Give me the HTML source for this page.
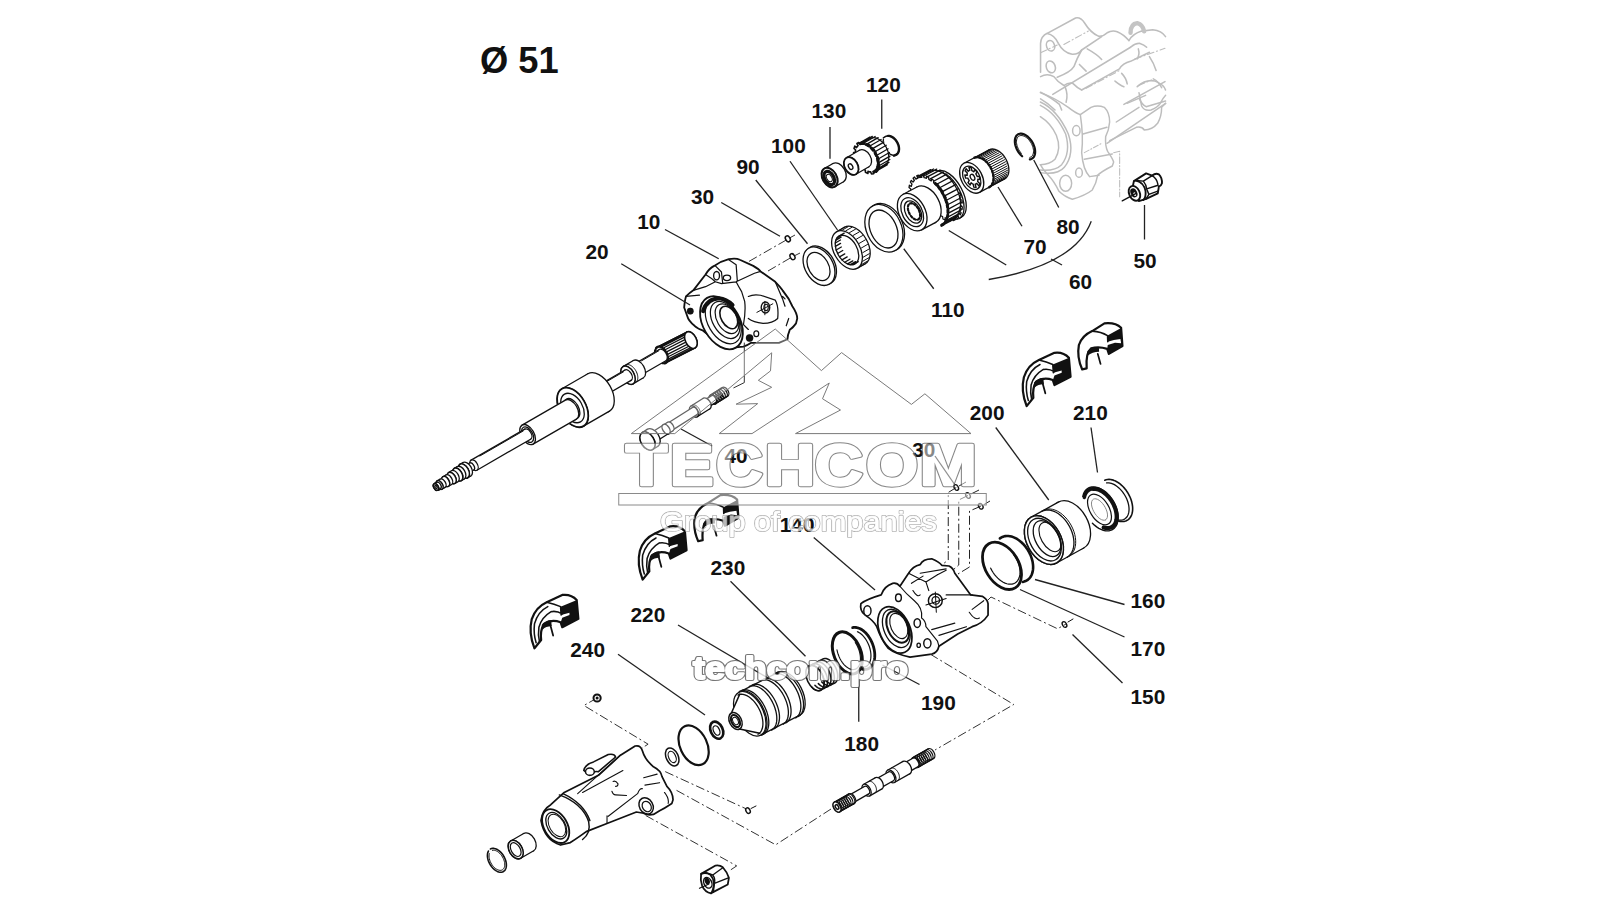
<!DOCTYPE html>
<html><head><meta charset="utf-8">
<style>
html,body{margin:0;padding:0;background:#fff;width:1600px;height:900px;overflow:hidden}
svg{position:absolute;left:0;top:0}
text{font-family:"Liberation Sans",sans-serif}
.lb{font-weight:bold;font-size:20.8px;fill:#111}
.ld{stroke:#222;stroke-width:1.3;fill:none}
.p{stroke:#111;stroke-width:1.3;fill:#fff;stroke-linejoin:round;stroke-linecap:round}
.pn{stroke:#111;stroke-width:1.3;fill:none;stroke-linejoin:round;stroke-linecap:round}
.pk{stroke:#111;stroke-width:2.6;fill:none;stroke-linejoin:round;stroke-linecap:round}
.t{stroke:#111;stroke-width:1;fill:none;stroke-linecap:round}
.dd{stroke:#333;stroke-width:1;fill:none;stroke-dasharray:9 3 2 3}
.g{stroke:#bdbdbd;stroke-width:1.6;fill:none;stroke-linejoin:round;stroke-linecap:round}
.gt{stroke:#c8c8c8;stroke-width:1;fill:none}
</style></head><body>
<svg width="1600" height="900" viewBox="0 0 1600 900">
<text x="480" y="72.5" style="font-weight:bold;font-size:36.3px;fill:#111">Ø 51</text>


<g id="parts">
<ellipse cx="820.5" cy="265.2" rx="14" ry="20.7" transform="rotate(-30 820.5 265.2)" class="p" />
<ellipse cx="819" cy="266.2" rx="14" ry="20.7" transform="rotate(-30 819 266.2)" class="p" />
<ellipse cx="818.5" cy="266.5" rx="10" ry="15.2" transform="rotate(-30 818.5 266.5)" class="pn" />
<ellipse cx="854.79" cy="245.5" rx="13" ry="21" transform="rotate(-30 854.79 245.5)" class="p" /><path d="M857.5 268.19 L865.29 263.69 L844.29 227.31 L836.5 231.81 Z" fill="#fff" stroke="none"/><path d="M857.5 268.19 L865.29 263.69 M836.5 231.81 L844.29 227.31" class="p" fill="none"/><ellipse cx="847" cy="250" rx="13" ry="21" transform="rotate(-30 847 250)" class="p" />
<ellipse cx="847" cy="250" rx="10" ry="16" transform="rotate(-30 847 250)" class="pn" />
<path d="M859.31 267.05 L865.37 263.55 M861.46 264.58 L867.52 261.08 M862.8 261.21 L868.87 257.71 M863.26 257.15 L869.32 253.65 M862.8 252.63 L868.87 249.13 M861.46 247.93 L867.52 244.43 M859.31 243.32 L865.37 239.82 M856.47 239.08 L862.54 235.58 M853.13 235.45 L859.19 231.95 M849.47 232.66 L855.54 229.16 M845.72 230.87 L851.78 227.37 M842.1 230.19 L848.16 226.69 M838.82 230.66 L844.88 227.16 " class="t"/>
<path d="M839 236.14 L844.2 233.14 M837.14 237.76 L842.34 234.76 M835.87 240.11 L841.07 237.11 M835.26 243.05 L840.46 240.05 M835.35 246.4 L840.54 243.4 M836.13 249.96 L841.32 246.96 M837.55 253.52 L842.75 250.52 M839.54 256.88 L844.73 253.88 M841.97 259.83 L847.16 256.83 M844.7 262.19 L849.89 259.19 M847.56 263.83 L852.76 260.83 M850.39 264.65 L855.59 261.65 M853.02 264.59 L858.22 261.59 " class="pn"/>
<ellipse cx="885.5" cy="227.3" rx="17.5" ry="25" transform="rotate(-25 885.5 227.3)" class="p" />
<ellipse cx="883.9" cy="228.3" rx="17.5" ry="25" transform="rotate(-25 883.9 228.3)" class="p" />
<ellipse cx="883.5" cy="229" rx="13" ry="20" transform="rotate(-25 883.5 229)" class="pn" />
<ellipse cx="949.21" cy="194.33" rx="13.5" ry="26" transform="rotate(-28 949.21 194.33)" class="p" /><path d="M959.21 218.46 L961.41 217.28 L937 171.37 L934.79 172.54 Z" fill="#fff" stroke="none"/><path d="M959.21 218.46 L961.41 217.28 M934.79 172.54 L937 171.37" class="p" fill="none"/><ellipse cx="947" cy="195.5" rx="13.5" ry="26" transform="rotate(-28 947 195.5)" class="p" />
<ellipse cx="942.24" cy="194.46" rx="15.5" ry="26" transform="rotate(-28 942.24 194.46)" class="p" /><path d="M941.21 224.46 L954.45 217.41 L930.04 171.5 L916.79 178.54 Z" fill="#fff" stroke="none"/><path d="M941.21 224.46 L954.45 217.41 M916.79 178.54 L930.04 171.5" class="p" fill="none"/>
<path d="M946.96 206.68 L946.67 205.13 L948.37 205.15 L947.67 202.38 L945.88 201.99 L945.38 200.41 L944.8 198.84 L946.25 198.23 L945.06 195.5 L943.45 195.74 L942.69 194.22 L941.86 192.74 L942.95 191.54 L941.36 189.03 L940.04 189.88 L939.06 188.53 L938.04 187.23 L938.71 185.53 L936.81 183.4 L935.88 184.82 L934.75 183.72 L933.6 182.7 L933.8 180.6 L931.73 179.01 L931.24 180.89 L930.05 180.12 L928.85 179.44 L928.57 177.1 L926.46 176.16 L926.45 178.37 L925.27 177.98 L924.11 177.69 L923.36 175.26 L921.37 175.02 L921.84 177.42 L920.75 177.44 L919.7 177.56 L918.54 175.21 L916.8 175.7 L917.71 178.12 L916.79 178.54 L915.92 179.07 L914.43 176.95 L913.05 178.13 L914.36 180.4 L913.67 181.21 L913.04 182.1 L911.32 180.37 L910.4 182.15 L912 184.13 L911.59 185.26 L911.25 186.46 L909.41 185.22 L909.01 187.5 L910.8 189.04 L910.69 190.41 L910.66 191.83 L908.83 191.19 L908.99 193.79 L910.84 194.8 L911.04 196.32 L911.33 197.87 L909.63 197.85 L910.33 200.62 L912.12 201.01 L912.62 202.59 L913.2 204.16 L911.75 204.77 L912.94 207.5 L914.55 207.26 L915.31 208.78 L916.14 210.26 L915.05 211.46 L916.64 213.97 L917.96 213.12 L918.94 214.47 L919.96 215.77 L919.29 217.47 L921.19 219.6 L922.12 218.18" class="pn" style="stroke-width:1.3"/>
<path d="M936.5 212.25 L937.69 213.31 L937.5 215.41 L939.65 217.05 L940.14 215.16 L941.38 215.95 L942.62 216.64 L942.93 218.99 L945.11 219.93 L945.1 217.71 L946.32 218.08 L947.52 218.35 L948.31 220.78 L950.36 220.95 L949.85 218.55 L950.97 218.48 L952.04 218.3 L953.25 220.64 L955.02 220.04 L954.05 217.62 L954.97 217.12 L955.84 216.52 L957.38 218.57 L958.74 217.24 L957.38 215 L958.05 214.1 L958.64 213.11 L960.4 214.75 L961.25 212.78 L959.6 210.88 L959.96 209.65 L960.24 208.34 L962.09 209.44 L962.37 206.98 L960.55 205.55 L960.58 204.08 L960.53 202.56 L962.33 203.03 L962.01 200.26 L960.16 199.41 L959.86 197.8 L959.47 196.18 L961.1 195.99 L960.21 193.12 L958.46 192.91" class="pn" style="stroke-width:1.2"/>
<path d="M943.13 225.01 L956.38 217.97 M945.24 222.95 L958.49 215.91 M946.86 220.23 L960.1 213.19 M947.93 216.95 L961.18 209.9 M948.43 213.19 L961.67 206.15 M948.34 209.08 L961.58 202.04 M947.66 204.74 L960.9 197.7 M946.41 200.3 L959.66 193.26 M944.64 195.9 L957.88 188.86 M942.39 191.67 L955.63 184.62 M939.73 187.73 L952.97 180.69 M936.75 184.22 L949.99 177.18 M933.53 181.23 L946.77 174.19 M930.17 178.85 L943.42 171.81 M926.78 177.17 L940.02 170.12 M923.46 176.22 L936.7 169.18 M920.3 176.04 L933.54 169 M917.41 176.64 L930.65 169.59 " class="pn"/>
<path d="M941.68 225.34 L942.86 224.59 L943.94 223.67 L944.9 222.58 L945.74 221.33 L946.46 219.93 L947.04 218.39 L947.49 216.72 L947.79 214.93 L947.95 213.05 L947.97 211.07 L947.84 209.02 L947.57 206.91 L947.16 204.77 L946.61 202.6 L945.93 200.41 L945.11 198.24 L944.18 196.09 L943.13 193.99 L941.97 191.94 L940.71 189.96 L939.37 188.07 L937.94 186.29 L936.45 184.62 L934.9 183.08" class="pk" style="stroke-dasharray:2.5 2.5;stroke-width:3"/>
<ellipse cx="926.33" cy="204.69" rx="13" ry="20" transform="rotate(-28 926.33 204.69)" class="p" /><path d="M921.59 229.86 L935.72 222.35 L916.94 187.03 L902.81 194.54 Z" fill="#fff" stroke="none"/><path d="M921.59 229.86 L935.72 222.35 M902.81 194.54 L916.94 187.03" class="p" fill="none"/><ellipse cx="912.2" cy="212.2" rx="13" ry="20" transform="rotate(-28 912.2 212.2)" class="p" />
<ellipse cx="912.2" cy="212.2" rx="10" ry="15.5" transform="rotate(-28 912.2 212.2)" class="pn" />
<ellipse cx="913" cy="212" rx="7.5" ry="12" transform="rotate(-28 913 212)" class="pn" />
<path d="M918.23 219.45 L918.86 218.98 L919.38 218.33 L919.77 217.51 L920.01 216.55 L920.11 215.46 L920.06 214.27 L919.85 213.02 L919.5 211.72 L919.02 210.42 L918.41 209.15 L917.7 207.94 L916.89 206.81 L916.02 205.8 L915.09 204.93 L914.13 204.22 L913.18 203.69 L912.24 203.35 L911.35 203.22 L910.52 203.28 L909.77 203.55 L909.14 204.02 L908.62 204.67 L908.23 205.49 L907.99 206.45 L907.89 207.54 L907.94 208.73 L908.15 209.98 L908.5 211.28 L908.98 212.58 L909.59 213.85 L910.3 215.06 L911.11 216.19 L911.98 217.2 L912.91 218.07 L913.87 218.78 L914.82 219.31 L915.76 219.65 L916.65 219.78 L917.48 219.72 L918.23 219.45" class="t" style="stroke-width:2.2;stroke-dasharray:2 2"/>
<ellipse cx="996.86" cy="164.42" rx="10.5" ry="16.5" transform="rotate(-28 996.86 164.42)" class="p" /><path d="M979.45 192.37 L1004.61 178.99 L989.12 149.85 L963.95 163.23 Z" fill="#fff" stroke="none"/><path d="M979.45 192.37 L1004.61 178.99 M963.95 163.23 L989.12 149.85" class="p" fill="none"/><ellipse cx="971.7" cy="177.8" rx="10.5" ry="16.5" transform="rotate(-28 971.7 177.8)" class="p" />
<path d="M989.79 186.83 L1003.91 179.31 M990.92 185.86 L1005.04 178.35 M991.86 184.64 L1005.99 177.13 M992.6 183.18 L1006.73 175.67 M993.13 181.52 L1007.26 174.01 M993.42 179.69 L1007.55 172.18 M993.49 177.72 L1007.61 170.21 M993.31 175.65 L1007.44 168.14 M992.91 173.52 L1007.04 166.01 M992.28 171.38 L1006.41 163.87 M991.44 169.26 L1005.57 161.74 M990.41 167.2 L1004.53 159.69 M989.2 165.25 L1003.32 157.74 M987.84 163.45 L1001.96 155.93 M986.35 161.82 L1000.48 154.31 M984.77 160.4 L998.89 152.89 M983.12 159.22 L997.25 151.71 M981.44 158.31 L995.56 150.8 M979.76 157.67 L993.88 150.16 M978.11 157.32 L992.23 149.81 M976.52 157.27 L990.65 149.76 M975.03 157.52 L989.16 150.01 " class="t"/>
<path d="M989.16 187.21 L990.3 186.44 L991.29 185.44 L992.12 184.21 L992.76 182.79 L993.2 181.2 L993.45 179.46 L993.48 177.6 L993.32 175.66 L992.94 173.66 L992.37 171.65 L991.62 169.66 L990.68 167.71 L989.59 165.85 L988.36 164.11 L987.01 162.51 L985.57 161.09 L984.05 159.86 L982.49 158.85 L980.91 158.08 L979.34 157.56 L977.8 157.29 L976.33 157.29 L974.94 157.55 L973.67 158.07" class="pk" style="stroke-dasharray:2 2;stroke-width:2.4"/>
<ellipse cx="971.7" cy="177.8" rx="8" ry="12.5" transform="rotate(-28 971.7 177.8)" class="pn" />
<path d="M976.02 183.92 L976.75 183.37 L978.84 185.91 L979.93 183.85 L977.68 181.61 L977.86 180.46 L977.83 179.18 L980.19 179.65 L979.42 176.5 L977.17 176.47 L976.56 175.14 L975.8 173.89 L977.03 172.01 L974.85 169.61 L973.92 171.83 L972.88 171.09 L971.83 170.59 L971.22 167.48 L968.91 167.23 L969.84 170.38 L968.98 170.68 L968.25 171.23 L966.16 168.69 L965.07 170.75 L967.32 172.99 L967.14 174.14 L967.17 175.42 L964.81 174.95 L965.58 178.1 L967.83 178.13 L968.44 179.46 L969.2 180.71 L967.97 182.59 L970.15 184.99 L971.08 182.77 L972.12 183.51 L973.17 184.01 L973.78 187.12 L976.09 187.37 L975.16 184.22" class="pn" style="stroke-width:1.4"/>
<ellipse cx="972.5" cy="177.3" rx="2" ry="3.2" transform="rotate(-28 972.5 177.3)" class="pn" />
<path d="M1029.86 159.31 L1031.03 159.06 L1032.1 158.57 L1033.02 157.85 L1033.8 156.92 L1034.41 155.79 L1034.85 154.49 L1035.1 153.03 L1035.15 151.45 L1035.02 149.78 L1034.7 148.05 L1034.19 146.29 L1033.51 144.53 L1032.67 142.81 L1031.69 141.16 L1030.58 139.61 L1029.36 138.19 L1028.07 136.92 L1026.71 135.84 L1025.32 134.96 L1023.93 134.29 L1022.55 133.86 L1021.23 133.66 L1019.97 133.71 L1018.81 134 L1017.76 134.52 L1016.85 135.27 L1016.1 136.23 L1015.51 137.39 L1015.1 138.71 L1014.88 140.19 L1014.85 141.78 L1015.01 143.46 L1015.36 145.2 L1015.89 146.96 L1016.6 148.72 L1017.46 150.43 L1018.46 152.07 L1019.59 153.6 L1020.82 155 L1022.12 156.24" class="pn" style="stroke-width:2.2"/>
<path d="M1029.86 157.34 L1030.73 157.04 L1031.51 156.55 L1032.17 155.89 L1032.71 155.07 L1033.12 154.1 L1033.39 153.01 L1033.52 151.8 L1033.5 150.5 L1033.34 149.13 L1033.03 147.72 L1032.59 146.29 L1032.01 144.86 L1031.32 143.46 L1030.52 142.11 L1029.62 140.83 L1028.64 139.66 L1027.61 138.6 L1026.52 137.67 L1025.42 136.9 L1024.3 136.29 L1023.2 135.85 L1022.12 135.6 L1021.1 135.54 L1020.14 135.66 L1019.27 135.96 L1018.49 136.45 L1017.83 137.11 L1017.29 137.93 L1016.88 138.9 L1016.61 139.99 L1016.48 141.2 L1016.5 142.5 L1016.66 143.87 L1016.97 145.28 L1017.41 146.71 L1017.99 148.14 L1018.68 149.54 L1019.48 150.89 L1020.38 152.17 L1021.36 153.34" class="t"/>
<g transform="translate(1110 160) scale(0.05556)" stroke="#111" stroke-linejoin="round" stroke-linecap="round"><path d="M760 280 Q820 230 880 260 Q940 320 935 420 Q920 470 880 480 L860 600 L650 700 L520 740 L380 620 L430 380 L650 240 Z" fill="#fff" stroke-width="34"/><path d="M760 280 Q840 330 860 430 Q860 470 880 480 M430 380 L470 370 L600 380 L760 280 M600 380 Q650 440 660 520 L700 620 L650 700 M660 520 L850 460 M700 620 L860 560" fill="none" stroke-width="26"/><path d="M470 370 Q610 400 640 560 Q650 680 600 720" fill="none" stroke-width="34"/><ellipse cx="440" cy="600" rx="95" ry="140" transform="rotate(-25 440 600)" fill="#fff" stroke-width="34"/><ellipse cx="430" cy="590" rx="58" ry="85" transform="rotate(-25 430 590)" fill="#111"/><ellipse cx="445" cy="615" rx="22" ry="35" transform="rotate(-25 445 615)" fill="#fff"/><path d="M220 735 L470 600" fill="none" stroke-width="24"/></g>
<ellipse cx="838.26" cy="172.6" rx="7" ry="10.5" transform="rotate(-30 838.26 172.6)" class="p" /><path d="M834.85 186.69 L843.51 181.69 L833.01 163.51 L824.35 168.51 Z" fill="#fff" stroke="none"/><path d="M834.85 186.69 L843.51 181.69 M824.35 168.51 L833.01 163.51" class="p" fill="none"/><ellipse cx="829.6" cy="177.6" rx="7" ry="10.5" transform="rotate(-30 829.6 177.6)" class="p" />
<ellipse cx="829.6" cy="177.6" rx="7" ry="10.5" transform="rotate(-30 829.6 177.6)" class="p" style="stroke-width:2"/>
<ellipse cx="829.3" cy="178" rx="4.5" ry="7.2" transform="rotate(-30 829.3 178)" class="pk" style="stroke-width:3.2;stroke-dasharray:2.5 1.2"/>
<ellipse cx="829.3" cy="178" rx="2.5" ry="4" transform="rotate(-30 829.3 178)" class="t" />
<ellipse cx="891.1" cy="145.5" rx="7" ry="10.5" transform="rotate(-30 891.1 145.5)" class="p" /><path d="M893.75 156.09 L896.35 154.59 L885.85 136.41 L883.25 137.91 Z" fill="#fff" stroke="none"/><path d="M893.75 156.09 L896.35 154.59 M883.25 137.91 L885.85 136.41" class="p" fill="none"/>
<path d="M893.86 155.34 L894.81 155.24 L895.7 154.96 L896.51 154.53 L897.22 153.95 L897.83 153.22 L898.32 152.36 L898.69 151.39 L898.92 150.32 L899.02 149.16 L898.98 147.95 L898.8 146.69 L898.49 145.42 L898.05 144.15 L897.5 142.91 L896.83 141.71 L896.06 140.57 L895.2 139.53 L894.28 138.58 L893.29 137.76 L892.27 137.07 L891.22 136.53 L890.18 136.14 L889.14 135.92 L888.14 135.86" class="pk" style="stroke-width:2.4"/>
<ellipse cx="877.76" cy="151.5" rx="9.5" ry="15" transform="rotate(-30 877.76 151.5)" class="p" /><path d="M874 170.99 L885.26 164.49 L870.26 138.51 L859 145.01 Z" fill="#fff" stroke="none"/><path d="M874 170.99 L885.26 164.49 M859 145.01 L870.26 138.51" class="p" fill="none"/><ellipse cx="866.5" cy="158" rx="9.5" ry="15" transform="rotate(-30 866.5 158)" class="p" />
<path d="M874 170.99 L874.94 170.32 L876.49 172.11 L877.87 170.39 L876.43 168.46 L876.96 167.29 L877.35 165.99 L879.15 166.95 L879.41 164.23 L877.63 163.06 L877.53 161.47 L877.27 159.83 L878.91 159.74 L877.99 156.64 L876.28 156.5 L875.57 154.85 L874.73 153.25 L875.83 152.13 L873.94 149.37 L872.69 150.28 L871.53 148.95 L870.3 147.76 L870.61 145.86 L868.18 144.07 L867.68 145.83 L866.34 145.13 L865 144.61 L864.45 142.38 L862.04 141.97 L862.4 144.17 L861.19 144.25 L860.05 144.53 L858.76 142.47 L856.92 143.53 L858.06 145.68 L857.25 146.52 L856.57 147.54 L854.84 146.12 L853.99 148.41 L855.65 150.01 L855.43 151.43 L855.37 152.94 L853.6 152.49 L853.93 155.49 L855.73 156.17 L856.15 157.83 L856.72 159.5 L855.3 160.13 L856.75 163.14 L858.27 162.75 L859.24 164.28 L860.31 165.72 L859.58 167.28 L861.8 169.62 L862.7 168.24 L863.99 169.29 L865.32 170.17 L865.44 172.3 L867.93 173.43 L868 171.39 L869.32 171.71 L870.6 171.83 L871.54 174.04 L873.73 173.71 L872.95 171.47" class="p" style="stroke-width:1.6"/>
<path d="M876.2 171.16 L887.46 164.66 M877.74 168.92 L888.99 162.42 M878.6 166.03 L889.86 159.53 M878.74 162.66 L890 156.16 M878.16 159.02 L889.42 152.52 M876.89 155.31 L888.15 148.81 M875 151.77 L886.25 145.27 M872.6 148.59 L883.86 142.09 M869.84 145.98 L881.1 139.48 M866.88 144.07 L878.14 137.57 M863.9 143 L875.16 136.5 M861.08 142.82 L872.33 136.32 M858.57 143.54 L869.83 137.04 " class="pn"/>
<path d="M874.5 171.86 L875.56 171.09 L876.47 170.09 L877.21 168.89 L877.76 167.5 L878.12 165.95 L878.28 164.26 L878.24 162.47 L878 160.6 L877.56 158.68 L876.94 156.76 L876.13 154.85 L875.16 153 L874.04 151.23 L872.79 149.58 L871.44 148.08 L870 146.74 L868.5 145.6 L866.97 144.67 L865.43 143.96 L863.9 143.5 L862.42 143.28 L861.01 143.32 L859.7 143.61 L858.5 144.14" class="pk" style="stroke-dasharray:3 3;stroke-width:3"/>
<ellipse cx="864.19" cy="158.5" rx="6.5" ry="9.5" transform="rotate(-30 864.19 158.5)" class="p" /><path d="M855.95 174.23 L868.94 166.73 L859.44 150.27 L846.45 157.77 Z" fill="#fff" stroke="none"/><path d="M855.95 174.23 L868.94 166.73 M846.45 157.77 L859.44 150.27" class="p" fill="none"/><ellipse cx="851.2" cy="166" rx="6.5" ry="9.5" transform="rotate(-30 851.2 166)" class="p" />
<ellipse cx="851.2" cy="166" rx="6.5" ry="9.5" transform="rotate(-30 851.2 166)" class="p" style="stroke-width:1.8"/>
<ellipse cx="850.6" cy="166.6" rx="2" ry="3" transform="rotate(-30 850.6 166.6)" class="pn" />
<g transform="translate(1035 10) scale(0.1111)" fill="none" stroke="#bdbdbd" stroke-width="14" stroke-linecap="round" stroke-linejoin="round"><path d="M50 560 L50 300 Q55 235 110 210 L365 72 Q410 62 445 115 Q500 205 570 235 Q615 240 650 205 Q690 180 740 195 Q800 220 845 275"/><path d="M110 212 Q175 225 210 300 Q255 385 335 398 Q390 400 420 360 L600 240"/><path d="M420 360 Q375 440 350 510 Q320 560 200 605"/><path d="M160 760 L860 335"/><path d="M845 275 Q880 215 960 190 L1060 178 Q1140 185 1175 240"/><path d="M860 335 Q900 300 940 300 Q985 315 1005 335"/><path d="M50 600 Q110 565 170 600 Q205 650 260 680 Q300 650 340 660 Q380 700 420 720"/><path d="M420 720 L760 530 Q790 480 860 462 L1030 380"/><path d="M800 850 L1170 645"/><path d="M470 350 Q560 400 600 445"/><path d="M400 490 Q430 520 460 550"/><path d="M720 640 Q770 680 800 690"/><path d="M780 570 Q820 610 830 665"/><path d="M930 350 Q945 400 920 440"/><path d="M1030 420 Q1070 480 1090 545"/><path d="M1065 620 Q1110 640 1140 700"/><path d="M920 690 Q1000 620 1080 640 Q1160 670 1175 720"/><path d="M940 800 Q960 850 1000 870 L1175 820"/><path d="M50 740 Q150 790 220 850 L240 900"/><path d="M50 800 Q120 840 180 900"/><path d="M270 690 Q300 760 280 830"/><path d="M50 385 L200 315" stroke-dasharray="60 25 10 25" stroke-width="10"/><path d="M260 310 L480 190" stroke-dasharray="60 25 10 25" stroke-width="10"/><path d="M460 705 L760 545" stroke-dasharray="60 25 10 25" stroke-width="10"/><path d="M900 440 L1170 345" stroke-dasharray="60 25 10 25" stroke-width="10"/><path d="M930 680 L1050 630" stroke-dasharray="60 25 10 25" stroke-width="10"/><ellipse cx="140" cy="322" rx="36" ry="48" transform="rotate(-20 140 322)"/><ellipse cx="142" cy="512" rx="40" ry="55" transform="rotate(-20 142 512)"/><path d="M860 205 Q860 125 920 118 Q970 130 982 192" stroke-width="40" stroke="#c4c4c4"/></g>
<g transform="translate(1035 90) scale(0.1333)" fill="none" stroke="#bdbdbd" stroke-width="11" stroke-linecap="round" stroke-linejoin="round"><path d="M40 20 Q150 60 250 130 Q300 170 340 185 L420 130 Q470 110 520 130 Q560 170 560 240 Q555 300 530 350 Q525 420 545 460 Q580 510 590 540 L580 570 Q500 610 470 640 Q460 700 430 750 Q380 790 280 820 Q220 800 180 760 Q140 680 100 640 Q60 600 40 560"/><path d="M40 90 Q170 150 250 330 Q300 480 220 580 Q170 640 40 620"/><path d="M40 115 Q160 175 230 330 Q270 470 200 560 Q150 610 40 600"/><path d="M40 200 Q120 250 160 340 Q200 440 150 520 Q110 560 40 560"/><path d="M340 185 Q365 350 350 470 Q360 600 410 650 L480 640"/><path d="M360 330 L540 280"/><path d="M370 520 L580 480"/><path d="M540 400 L980 100"/><path d="M610 240 L780 130"/><path d="M690 100 L830 40"/><path d="M560 380 L760 280 Q800 270 820 300 Q880 300 920 250 Q950 200 950 130 L980 100"/><path d="M780 20 L800 120 Q820 160 870 150 Q920 130 940 100 Q960 60 980 40"/><ellipse cx="310" cy="305" rx="28" ry="38"/><ellipse cx="330" cy="620" rx="25" ry="35"/><ellipse cx="230" cy="700" rx="45" ry="60"/><path d="M370 470 L500 400" stroke-dasharray="40 15 8 15" stroke-width="8"/><path d="M590 470 L635 460 L635 800" stroke-dasharray="50 15 8 15" stroke-width="8"/></g>
<ellipse cx="690.9" cy="340.02" rx="5.5" ry="9" transform="rotate(-27 690.9 340.02)" class="p" /><path d="M665.59 363.02 L694.99 348.04 L686.82 332 L657.41 346.98 Z" fill="#fff" stroke="none"/><path d="M665.59 363.02 L694.99 348.04 M657.41 346.98 L686.82 332" class="p" fill="none"/><ellipse cx="661.5" cy="355" rx="5.5" ry="9" transform="rotate(-27 661.5 355)" class="p" />
<path d="M667.12 362.14 L694.74 348.07 M668.17 360.76 L695.79 346.68 M668.71 358.83 L696.33 344.76 M668.7 356.54 L696.32 342.46 M668.13 354.06 L695.76 339.99 M667.07 351.63 L694.69 337.56 M665.6 349.46 L693.22 335.38 M663.85 347.73 L691.47 333.65 M661.97 346.59 L689.59 332.52 M660.12 346.15 L687.74 332.08 M658.75 346.34 L686.37 332.27 " class="pn"/>
<path d="M665.59 363.02 L666.52 362.32 L667.23 361.31 L667.69 360.02 L667.88 358.51 L667.79 356.85 L667.42 355.1 L666.8 353.35 L665.95 351.68 L664.9 350.15 L663.7 348.83 L662.41 347.78 L661.07 347.04 L659.76 346.66 L658.52 346.64 L657.41 346.98 L656.48 347.68 L655.77 348.69 L655.31 349.98 L655.12 351.49 L655.21 353.15 L655.58 354.9 L656.2 356.65 L657.05 358.32 L658.1 359.85 L659.3 361.17 L660.59 362.22 L661.93 362.96 L663.24 363.34 L664.48 363.36 L665.59 363.02" class="pk" style="stroke-width:2.4;stroke-dasharray:2.5 2"/>
<ellipse cx="690.9" cy="340.02" rx="5.5" ry="9" transform="rotate(-27 690.9 340.02)" class="p" style="stroke-width:1.6"/>
<ellipse cx="662.59" cy="355.09" rx="3.9" ry="6.5" transform="rotate(-30.2 662.59 355.09)" class="p" /><path d="M642.52 374.29 L665.86 360.71 L659.32 349.47 L635.98 363.05 Z" fill="#fff" stroke="none"/><path d="M642.52 374.29 L665.86 360.71 M635.98 363.05 L659.32 349.47" class="p" fill="none"/><ellipse cx="639.25" cy="368.67" rx="3.9" ry="6.5" transform="rotate(-30.2 639.25 368.67)" class="p" />
<path d="M641.56 360.81 L658.85 350.75 " class="t"/>
<ellipse cx="638.39" cy="369.17" rx="6" ry="10" transform="rotate(-30.2 638.39 369.17)" class="p" /><path d="M633.05 383.85 L643.42 377.81 L633.36 360.53 L622.99 366.57 Z" fill="#fff" stroke="none"/><path d="M633.05 383.85 L643.42 377.81 M622.99 366.57 L633.36 360.53" class="p" fill="none"/><ellipse cx="628.02" cy="375.21" rx="6" ry="10" transform="rotate(-30.2 628.02 375.21)" class="p" />
<path d="M635.64 382.34 L636.27 381.87 L636.81 381.27 L637.24 380.53 L637.56 379.67 L637.76 378.72 L637.83 377.68 L637.78 376.57 L637.61 375.41 L637.32 374.22 L636.92 373.02 L636.41 371.83 L635.79 370.68 L635.09 369.58 L634.32 368.55 L633.47 367.6 L632.58 366.76 L631.66 366.04 L630.72 365.45 L629.77 365 L628.84 364.71 L627.95 364.56 L627.09 364.57 L626.3 364.74 L625.58 365.06" class="t"/>
<ellipse cx="628.02" cy="375.21" rx="6" ry="10" transform="rotate(-30.2 628.02 375.21)" class="p" style="stroke-width:1.5"/>
<ellipse cx="628.01" cy="375.21" rx="3.6" ry="6" transform="rotate(-30.2 628.01 375.21)" class="p" /><path d="M601.65 397.5 L631.03 380.39 L625 370.02 L595.61 387.12 Z" fill="#fff" stroke="none"/><path d="M601.65 397.5 L631.03 380.39 M595.61 387.12 L625 370.02" class="p" fill="none"/><ellipse cx="598.63" cy="392.31" rx="3.6" ry="6" transform="rotate(-30.2 598.63 392.31)" class="p" />
<path d="M601.03 384.9 L623.5 371.82 " class="t"/>
<ellipse cx="598.68" cy="392.4" rx="13" ry="21.6" transform="rotate(-30 598.68 392.4)" class="p" /><path d="M583.5 426.11 L609.48 411.11 L587.88 373.69 L561.9 388.69 Z" fill="#fff" stroke="none"/><path d="M583.5 426.11 L609.48 411.11 M561.9 388.69 L587.88 373.69" class="p" fill="none"/><ellipse cx="572.7" cy="407.4" rx="13" ry="21.6" transform="rotate(-30 572.7 407.4)" class="p" />
<ellipse cx="572.7" cy="407.4" rx="13" ry="21.6" transform="rotate(-30 572.7 407.4)" class="p" style="stroke-width:1.8"/>
<ellipse cx="572.5" cy="408" rx="10" ry="16" transform="rotate(-30 572.5 408)" class="pn" />
<ellipse cx="572" cy="408.6" rx="6.5" ry="11" transform="rotate(-30 572 408.6)" class="pn" />
<ellipse cx="570.9" cy="409.6" rx="6.5" ry="11" transform="rotate(-30 570.9 409.6)" class="p" /><path d="M533.1 444.13 L576.4 419.13 L565.4 400.07 L522.1 425.07 Z" fill="#fff" stroke="none"/><path d="M533.1 444.13 L576.4 419.13 M522.1 425.07 L565.4 400.07" class="p" fill="none"/><ellipse cx="527.6" cy="434.6" rx="6.5" ry="11" transform="rotate(-30 527.6 434.6)" class="p" />
<ellipse cx="527.6" cy="434.6" rx="5" ry="8.5" transform="rotate(-30 527.6 434.6)" class="pn" />
<ellipse cx="527.69" cy="434.2" rx="3.5" ry="5.8" transform="rotate(-30 527.69 434.2)" class="p" /><path d="M476.9 470.22 L530.59 439.22 L524.79 429.18 L471.1 460.18 Z" fill="#fff" stroke="none"/><path d="M476.9 470.22 L530.59 439.22 M471.1 460.18 L524.79 429.18" class="p" fill="none"/><ellipse cx="474" cy="465.2" rx="3.5" ry="5.8" transform="rotate(-30 474 465.2)" class="p" />
<path d="M479.93 455.97 L523.23 430.97 " class="t"/>
<ellipse cx="471.64" cy="466.5" rx="2.4" ry="4" transform="rotate(-30 471.64 466.5)" class="p" /><path d="M439 489.96 L473.64 469.96 L469.64 463.04 L435 483.04 Z" fill="#fff" stroke="none"/><path d="M439 489.96 L473.64 469.96 M435 483.04 L469.64 463.04" class="p" fill="none"/><ellipse cx="437" cy="486.5" rx="2.4" ry="4" transform="rotate(-30 437 486.5)" class="p" />
<ellipse cx="466.88" cy="469.25" rx="4.68" ry="7.8" transform="rotate(-30 466.88 469.25)" class="p" /><path d="M467.75 477.75 L470.78 476 L462.98 462.5 L459.95 464.25 Z" fill="#fff" stroke="none"/><path d="M467.75 477.75 L470.78 476 M459.95 464.25 L462.98 462.5" class="p" fill="none"/><ellipse cx="463.85" cy="471" rx="4.68" ry="7.8" transform="rotate(-30 463.85 471)" class="p" />
<ellipse cx="463.85" cy="471" rx="4.68" ry="7.8" transform="rotate(-30 463.85 471)" class="p" style="stroke-width:1.5"/>
<ellipse cx="460.82" cy="472.75" rx="4.23" ry="7.05" transform="rotate(-30 460.82 472.75)" class="p" /><path d="M461.31 480.61 L464.34 478.86 L457.29 466.64 L454.26 468.39 Z" fill="#fff" stroke="none"/><path d="M461.31 480.61 L464.34 478.86 M454.26 468.39 L457.29 466.64" class="p" fill="none"/><ellipse cx="457.78" cy="474.5" rx="4.23" ry="7.05" transform="rotate(-30 457.78 474.5)" class="p" />
<ellipse cx="457.78" cy="474.5" rx="4.23" ry="7.05" transform="rotate(-30 457.78 474.5)" class="p" style="stroke-width:1.5"/>
<ellipse cx="454.75" cy="476.25" rx="3.78" ry="6.3" transform="rotate(-30 454.75 476.25)" class="p" /><path d="M454.87 483.46 L457.9 481.71 L451.6 470.79 L448.57 472.54 Z" fill="#fff" stroke="none"/><path d="M454.87 483.46 L457.9 481.71 M448.57 472.54 L451.6 470.79" class="p" fill="none"/><ellipse cx="451.72" cy="478" rx="3.78" ry="6.3" transform="rotate(-30 451.72 478)" class="p" />
<ellipse cx="451.72" cy="478" rx="3.78" ry="6.3" transform="rotate(-30 451.72 478)" class="p" style="stroke-width:1.5"/>
<ellipse cx="448.69" cy="479.75" rx="3.33" ry="5.55" transform="rotate(-30 448.69 479.75)" class="p" /><path d="M448.44 486.31 L451.47 484.56 L445.92 474.94 L442.89 476.69 Z" fill="#fff" stroke="none"/><path d="M448.44 486.31 L451.47 484.56 M442.89 476.69 L445.92 474.94" class="p" fill="none"/><ellipse cx="445.66" cy="481.5" rx="3.33" ry="5.55" transform="rotate(-30 445.66 481.5)" class="p" />
<ellipse cx="445.66" cy="481.5" rx="3.33" ry="5.55" transform="rotate(-30 445.66 481.5)" class="p" style="stroke-width:1.5"/>
<ellipse cx="442.63" cy="483.25" rx="2.88" ry="4.8" transform="rotate(-30 442.63 483.25)" class="p" /><path d="M442 489.16 L445.03 487.41 L440.23 479.09 L437.2 480.84 Z" fill="#fff" stroke="none"/><path d="M442 489.16 L445.03 487.41 M437.2 480.84 L440.23 479.09" class="p" fill="none"/><ellipse cx="439.6" cy="485" rx="2.88" ry="4.8" transform="rotate(-30 439.6 485)" class="p" />
<ellipse cx="439.6" cy="485" rx="2.88" ry="4.8" transform="rotate(-30 439.6 485)" class="p" style="stroke-width:1.5"/>
<ellipse cx="438.6" cy="485.5" rx="2.2" ry="3.6" transform="rotate(-30 438.6 485.5)" class="p" /><path d="M437.8 490.12 L440.4 488.62 L436.8 482.38 L434.2 483.88 Z" fill="#fff" stroke="none"/><path d="M437.8 490.12 L440.4 488.62 M434.2 483.88 L436.8 482.38" class="p" fill="none"/><ellipse cx="436" cy="487" rx="2.2" ry="3.6" transform="rotate(-30 436 487)" class="p" />
<ellipse cx="436" cy="487" rx="2.2" ry="3.6" transform="rotate(-30 436 487)" class="p" style="stroke-width:1.7"/>
<ellipse cx="436" cy="487" rx="1" ry="1.6" transform="rotate(-30 436 487)" class="pn" />
<g transform="translate(675 250) scale(0.12225)" stroke="#111" stroke-linejoin="round" stroke-linecap="round"><path d="M250 200 Q280 150 320 130 Q380 90 440 75 Q500 65 530 80 L640 130 Q690 160 700 175 L820 260 Q860 300 880 330 L930 400 Q950 440 960 460 Q1000 520 1000 560 L990 600 Q960 640 940 650 Q920 700 920 730 L850 760 L620 760 Q590 780 560 790 L450 800 Q380 780 330 740 Q280 700 230 660 Q180 640 160 620 Q110 580 100 540 L75 470 Q80 410 90 380 Q120 350 150 330 Z" fill="#fff" stroke-width="15"/><path d="M250 200 Q300 230 330 260 L380 275 L500 260 L650 190 L700 175 M330 130 Q360 160 380 180 L390 270 M440 80 Q470 100 500 120 L510 255 M150 330 L250 300 L330 260 M90 380 L200 370 M500 260 Q520 300 545 340 L570 420 Q580 500 560 610 L600 650 M600 380 Q640 360 700 370 L820 410 Q850 460 840 560 Q800 600 720 600 Q640 590 600 560 M820 260 L880 400 L900 460 M910 620 L930 560 M880 380 L900 400" fill="none" stroke-width="10"/><ellipse cx="340" cy="210" rx="24" ry="34" fill="#fff" stroke-width="11"/><ellipse cx="425" cy="228" rx="30" ry="22" fill="#fff" stroke-width="11"/><ellipse cx="380" cy="595" rx="150" ry="235" transform="rotate(-30 380 595)" fill="#fff" stroke-width="15"/><path d="M230 500 Q260 400 360 395 Q420 400 470 450" fill="none" stroke-width="34"/><ellipse cx="395" cy="583" rx="125" ry="200" transform="rotate(-30 395 583)" fill="none" stroke-width="10"/><ellipse cx="410" cy="572" rx="102" ry="165" transform="rotate(-30 410 572)" fill="none" stroke-width="10"/><ellipse cx="425" cy="562" rx="82" ry="132" transform="rotate(-30 425 562)" fill="none" stroke-width="10"/><ellipse cx="440" cy="552" rx="62" ry="100" transform="rotate(-30 440 552)" fill="none" stroke-width="13"/><ellipse cx="740" cy="470" rx="35" ry="45" fill="#fff" stroke-width="11"/><ellipse cx="745" cy="470" rx="18" ry="26" fill="none" stroke-width="9"/><path d="M670 510 L800 440 M735 420 L735 530" fill="none" stroke-width="8"/><circle cx="125" cy="500" r="27" fill="#111"/><circle cx="610" cy="720" r="30" fill="#111"/><ellipse cx="665" cy="685" rx="20" ry="24" fill="#fff" stroke-width="10"/></g>
<path d="M749 261.4 L786.8 239.7 M789.5 238 L795 235 M768 271 L792 257 M795 255.5 L800 253" class="dd"/>
<ellipse cx="787.8" cy="238.8" rx="2.2" ry="3.2" transform="rotate(-30 787.8 238.8)" class="pn" style="stroke-width:1.5"/>
<ellipse cx="792.5" cy="256.7" rx="2.2" ry="3.2" transform="rotate(-30 792.5 256.7)" class="pn" style="stroke-width:1.5"/>
<path d="M744.3 343 L744.3 382.6 L733.8 387.8" class="t" style="stroke:#333"/>
<ellipse cx="725.18" cy="391.7" rx="3" ry="5" transform="rotate(-32.4 725.18 391.7)" class="p" /><path d="M715.19 403.96 L727.86 395.93 L722.5 387.48 L709.83 395.52 Z" fill="#fff" stroke="none"/><path d="M715.19 403.96 L727.86 395.93 M709.83 395.52 L722.5 387.48" class="p" fill="none"/><ellipse cx="712.51" cy="399.74" rx="3" ry="5" transform="rotate(-32.4 712.51 399.74)" class="p" />
<ellipse cx="713.36" cy="399.21" rx="3.1" ry="5.2" transform="rotate(-32.4 713.36 399.21)" class="pk" style="stroke-width:1.3"/>
<ellipse cx="715.38" cy="397.92" rx="3.1" ry="5.2" transform="rotate(-32.4 715.38 397.92)" class="pk" style="stroke-width:1.3"/>
<ellipse cx="717.41" cy="396.63" rx="3.1" ry="5.2" transform="rotate(-32.4 717.41 396.63)" class="pk" style="stroke-width:1.3"/>
<ellipse cx="719.44" cy="395.35" rx="3.1" ry="5.2" transform="rotate(-32.4 719.44 395.35)" class="pk" style="stroke-width:1.3"/>
<ellipse cx="721.46" cy="394.06" rx="3.1" ry="5.2" transform="rotate(-32.4 721.46 394.06)" class="pk" style="stroke-width:1.3"/>
<ellipse cx="723.49" cy="392.78" rx="3.1" ry="5.2" transform="rotate(-32.4 723.49 392.78)" class="pk" style="stroke-width:1.3"/>
<ellipse cx="713.36" cy="399.21" rx="2.5" ry="4" transform="rotate(-32.4 713.36 399.21)" class="p" /><path d="M708.75 406.87 L715.5 402.58 L711.21 395.83 L704.46 400.11 Z" fill="#fff" stroke="none"/><path d="M708.75 406.87 L715.5 402.58 M704.46 400.11 L711.21 395.83" class="p" fill="none"/><ellipse cx="706.6" cy="403.49" rx="2.5" ry="4" transform="rotate(-32.4 706.6 403.49)" class="p" />
<ellipse cx="706.6" cy="403.49" rx="3.8" ry="6.2" transform="rotate(-32.4 706.6 403.49)" class="p" /><path d="M697.26 416.76 L709.93 408.73 L703.28 398.26 L690.62 406.29 Z" fill="#fff" stroke="none"/><path d="M697.26 416.76 L709.93 408.73 M690.62 406.29 L703.28 398.26" class="p" fill="none"/><ellipse cx="693.94" cy="411.53" rx="3.8" ry="6.2" transform="rotate(-32.4 693.94 411.53)" class="p" />
<path d="M698.95 415.69 L699.34 415.38 L699.67 414.99 L699.92 414.52 L700.11 413.97 L700.22 413.37 L700.24 412.72 L700.19 412.03 L700.07 411.31 L699.86 410.58 L699.59 409.85 L699.24 409.12 L698.84 408.42 L698.37 407.76 L697.87 407.14 L697.32 406.57 L696.74 406.08 L696.15 405.66 L695.55 405.32 L694.94 405.07 L694.35 404.91 L693.79 404.84 L693.25 404.87 L692.75 405 L692.3 405.22" class="t"/>
<ellipse cx="694.78" cy="410.99" rx="2.6" ry="4.2" transform="rotate(-32.4 694.78 410.99)" class="p" /><path d="M671.7 430.61 L697.03 414.54 L692.53 407.45 L667.2 423.52 Z" fill="#fff" stroke="none"/><path d="M671.7 430.61 L697.03 414.54 M667.2 423.52 L692.53 407.45" class="p" fill="none"/><ellipse cx="669.45" cy="427.07" rx="2.6" ry="4.2" transform="rotate(-32.4 669.45 427.07)" class="p" />
<ellipse cx="670.3" cy="426.53" rx="3" ry="5" transform="rotate(-32.4 670.3 426.53)" class="p" /><path d="M655.25 442.01 L672.98 430.75 L667.62 422.31 L649.89 433.56 Z" fill="#fff" stroke="none"/><path d="M655.25 442.01 L672.98 430.75 M649.89 433.56 L667.62 422.31" class="p" fill="none"/><ellipse cx="652.57" cy="437.79" rx="3" ry="5" transform="rotate(-32.4 652.57 437.79)" class="p" />
<ellipse cx="666.08" cy="429.21" rx="3.3" ry="5.5" transform="rotate(-32.4 666.08 429.21)" class="p" style="stroke-width:1.4"/>
<ellipse cx="652.57" cy="437.79" rx="6.5" ry="10" transform="rotate(-32.4 652.57 437.79)" class="p" /><path d="M652.86 449.44 L657.92 446.23 L647.21 429.34 L642.14 432.56 Z" fill="#fff" stroke="none"/><path d="M652.86 449.44 L657.92 446.23 M642.14 432.56 L647.21 429.34" class="p" fill="none"/><ellipse cx="647.5" cy="441" rx="6.5" ry="10" transform="rotate(-32.4 647.5 441)" class="p" />
<ellipse cx="647.5" cy="441" rx="6.5" ry="10" transform="rotate(-32.4 647.5 441)" class="p" style="stroke-width:1.5"/>
<g transform="translate(1010 315) scale(0.1111)" stroke-linejoin="round" stroke-linecap="round"><path d="M150 820 Q95 680 125 560 Q160 450 260 405 L400 340 Q480 330 530 385 L545 555 L400 630 L385 585 Q300 555 235 600 Q200 660 210 745 Z" fill="#fff" stroke="#111" stroke-width="20"/><path d="M385 445 L532 385 L545 555 L400 630 L385 590 L400 545 L465 520 L465 500 L390 520 Z" fill="#111"/><path d="M260 405 Q330 420 385 445 L390 520 M270 445 Q180 490 150 600 Q140 690 165 770 M300 490 Q215 540 190 630 Q180 700 195 760 M300 490 Q350 480 400 510" fill="none" stroke="#111" stroke-width="14"/><path d="M215 610 Q250 570 300 565 L305 620 Q250 625 225 650 Z" fill="#111"/><path d="M290 600 L318 705" fill="none" stroke="#111" stroke-width="16"/></g>
<g transform="translate(1010 315) scale(0.1111)" stroke-linejoin="round" stroke-linecap="round"><path d="M650 490 Q600 380 620 270 Q650 185 740 145 L850 75 Q950 65 1000 115 L1012 280 L890 350 L875 305 Q800 280 730 300 Q680 340 690 480 Z" fill="#fff" stroke="#111" stroke-width="20"/><path d="M878 185 L1000 118 L1012 280 L890 350 L875 305 L880 270 L945 250 L1000 255 L995 215 L935 225 L880 240 Z" fill="#111"/><path d="M740 145 Q820 150 878 185 L880 240" fill="none" stroke="#111" stroke-width="14"/><path d="M695 330 Q730 290 800 290 L802 330 Q740 330 700 365 Z" fill="#111"/><path d="M790 350 L815 440" fill="none" stroke="#111" stroke-width="16"/></g>
<g transform="translate(-384 173.5)"><g transform="translate(1010 315) scale(0.1111)" stroke-linejoin="round" stroke-linecap="round"><path d="M150 820 Q95 680 125 560 Q160 450 260 405 L400 340 Q480 330 530 385 L545 555 L400 630 L385 585 Q300 555 235 600 Q200 660 210 745 Z" fill="#fff" stroke="#111" stroke-width="20"/><path d="M385 445 L532 385 L545 555 L400 630 L385 590 L400 545 L465 520 L465 500 L390 520 Z" fill="#111"/><path d="M260 405 Q330 420 385 445 L390 520 M270 445 Q180 490 150 600 Q140 690 165 770 M300 490 Q215 540 190 630 Q180 700 195 760 M300 490 Q350 480 400 510" fill="none" stroke="#111" stroke-width="14"/><path d="M215 610 Q250 570 300 565 L305 620 Q250 625 225 650 Z" fill="#111"/><path d="M290 600 L318 705" fill="none" stroke="#111" stroke-width="16"/></g></g>
<g transform="translate(-384 171.8)"><g transform="translate(1010 315) scale(0.1111)" stroke-linejoin="round" stroke-linecap="round"><path d="M650 490 Q600 380 620 270 Q650 185 740 145 L850 75 Q950 65 1000 115 L1012 280 L890 350 L875 305 Q800 280 730 300 Q680 340 690 480 Z" fill="#fff" stroke="#111" stroke-width="20"/><path d="M878 185 L1000 118 L1012 280 L890 350 L875 305 L880 270 L945 250 L1000 255 L995 215 L935 225 L880 240 Z" fill="#111"/><path d="M740 145 Q820 150 878 185 L880 240" fill="none" stroke="#111" stroke-width="14"/><path d="M695 330 Q730 290 800 290 L802 330 Q740 330 700 365 Z" fill="#111"/><path d="M790 350 L815 440" fill="none" stroke="#111" stroke-width="16"/></g></g>
<g transform="translate(-492.2 242.2)"><g transform="translate(1010 315) scale(0.1111)" stroke-linejoin="round" stroke-linecap="round"><path d="M150 820 Q95 680 125 560 Q160 450 260 405 L400 340 Q480 330 530 385 L545 555 L400 630 L385 585 Q300 555 235 600 Q200 660 210 745 Z" fill="#fff" stroke="#111" stroke-width="20"/><path d="M385 445 L532 385 L545 555 L400 630 L385 590 L400 545 L465 520 L465 500 L390 520 Z" fill="#111"/><path d="M260 405 Q330 420 385 445 L390 520 M270 445 Q180 490 150 600 Q140 690 165 770 M300 490 Q215 540 190 630 Q180 700 195 760 M300 490 Q350 480 400 510" fill="none" stroke="#111" stroke-width="14"/><path d="M215 610 Q250 570 300 565 L305 620 Q250 625 225 650 Z" fill="#111"/><path d="M290 600 L318 705" fill="none" stroke="#111" stroke-width="16"/></g></g>
<path d="M1115.09 519.72 L1116.73 520.46 L1118.37 521.02 L1119.98 521.39 L1121.55 521.57 L1123.06 521.55 L1124.5 521.34 L1125.86 520.93 L1127.13 520.34 L1128.28 519.57 L1129.32 518.62 L1130.24 517.5 L1131.01 516.23 L1131.65 514.81 L1132.13 513.26 L1132.46 511.59 L1132.64 509.83 L1132.66 507.97 L1132.52 506.05 L1132.22 504.07 L1131.77 502.06 L1131.17 500.04 L1130.43 498.02 L1129.54 496.03 L1128.53 494.07 L1127.4 492.18 L1126.16 490.36 L1124.82 488.64 L1123.4 487.02 L1121.9 485.53 L1120.34 484.18 L1118.74 482.97 L1117.11 481.93 L1115.46 481.06 L1113.82 480.37 L1112.19 479.86 L1110.59 479.54 L1109.03 479.42 L1107.54 479.49 L1106.12 479.75 L1104.78 480.21" class="pn" style="stroke-width:1.6"/>
<path d="M1117.79 519.94 L1119.01 520.14 L1120.2 520.21 L1121.34 520.15 L1122.43 519.95 L1123.46 519.62 L1124.42 519.15 L1125.3 518.56 L1126.1 517.85 L1126.82 517.02 L1127.44 516.07 L1127.97 515.02 L1128.39 513.87 L1128.71 512.63 L1128.92 511.31 L1129.03 509.92 L1129.03 508.47 L1128.92 506.97 L1128.7 505.43 L1128.37 503.86 L1127.94 502.28 L1127.41 500.68 L1126.78 499.1 L1126.06 497.53 L1125.25 495.99 L1124.36 494.49 L1123.4 493.04 L1122.37 491.65 L1121.27 490.34 L1120.13 489.1 L1118.94 487.95 L1117.71 486.91 L1116.46 485.96 L1115.19 485.13 L1113.91 484.42 L1112.64 483.83 L1111.37 483.37 L1110.12 483.04 L1108.9 482.85 L1107.71 482.79 L1106.57 482.86" class="pn" style="stroke-width:1.3"/>
<path d="M1092.45 523.2 L1094.49 525.16 L1096.63 526.86 L1098.82 528.3 L1101.04 529.43 L1103.24 530.24 L1105.4 530.73 L1107.48 530.87 L1109.45 530.68 L1111.28 530.15 L1112.94 529.3 L1114.4 528.13 L1115.65 526.66 L1116.66 524.92 L1117.41 522.93 L1117.9 520.72 L1118.12 518.33 L1118.07 515.8 L1117.74 513.16 L1117.14 510.45 L1116.28 507.72 L1115.17 505.01 L1113.84 502.35 L1112.29 499.8 L1110.56 497.39 L1108.67 495.16 L1106.66 493.14 L1104.54 491.36 L1102.36 489.85 L1100.15 488.64 L1097.93 487.74 L1095.76 487.17 L1093.66 486.93 L1091.65 487.03 L1089.79 487.47 L1088.08 488.24 L1086.56 489.33 L1085.26 490.73 L1084.19 492.4 L1083.36 494.33 L1082.8 496.48" class="pn" style="stroke-width:1.4"/>
<path d="M1103.68 527.44 L1105.02 527.81 L1106.33 528.03 L1107.59 528.11 L1108.81 528.03 L1109.97 527.81 L1111.06 527.44 L1112.07 526.93 L1113 526.28 L1113.84 525.49 L1114.58 524.57 L1115.22 523.53 L1115.75 522.37 L1116.16 521.11 L1116.46 519.76 L1116.65 518.31 L1116.71 516.8 L1116.65 515.22 L1116.48 513.59 L1116.19 511.92 L1115.78 510.22 L1115.26 508.51 L1114.63 506.8 L1113.9 505.11 L1113.07 503.44 L1112.14 501.8 L1111.14 500.22 L1110.05 498.71 L1108.9 497.26 L1107.68 495.91 L1106.42 494.64 L1105.11 493.49 L1103.78 492.44 L1102.42 491.52 L1101.05 490.73 L1099.68 490.08 L1098.32 489.56 L1096.98 489.19 L1095.67 488.97 L1094.41 488.89 L1093.19 488.97" class="pk" style="stroke-width:4.2"/>
<path d="M1092.35 488.89 L1091.15 489.12 L1090.02 489.51 L1088.97 490.04 L1088 490.72 L1087.13 491.54 L1086.36 492.48 L1085.69 493.56 L1085.14 494.75 L1084.7 496.05 L1084.38 497.44" class="pk" style="stroke-width:3.5"/>
<ellipse cx="1099.5" cy="509.5" rx="9.5" ry="17" transform="rotate(-31 1099.5 509.5)" class="pn" style="stroke-width:1.2"/>
<path d="M1105.68 519.79 L1106.61 518.92 L1107.24 517.64 L1107.52 516.01 L1107.46 514.09 L1107.04 511.97 L1106.3 509.74 L1105.26 507.5 L1103.97 505.35 L1102.48 503.38 L1100.86 501.68 L1099.19 500.32 L1097.52 499.36 L1095.95 498.85 L1094.52 498.8 L1093.32 499.21 L1092.39 500.08 L1091.76 501.36 L1091.48 502.99 L1091.54 504.91 L1091.96 507.03 L1092.7 509.26 L1093.74 511.5 L1095.03 513.65 L1096.52 515.62 L1098.14 517.32 L1099.81 518.68 L1101.48 519.64 L1103.05 520.15 L1104.48 520.2 L1105.68 519.79" class="t" style="stroke:#888"/>
<ellipse cx="1071.01" cy="525.07" rx="17" ry="26.2" transform="rotate(-29 1071.01 525.07)" class="p" /><path d="M1056.6 563.02 L1083.72 547.99 L1058.31 502.16 L1031.2 517.18 Z" fill="#fff" stroke="none"/><path d="M1056.6 563.02 L1083.72 547.99 M1031.2 517.18 L1058.31 502.16" class="p" fill="none"/><ellipse cx="1043.9" cy="540.1" rx="17" ry="26.2" transform="rotate(-29 1043.9 540.1)" class="p" />
<path d="M1067.1 557.2 L1068.93 555.92 L1070.52 554.28 L1071.83 552.3 L1072.83 550 L1073.53 547.44 L1073.9 544.66 L1073.93 541.69 L1073.63 538.6 L1073 535.43 L1072.05 532.25 L1070.8 529.1 L1069.27 526.04 L1067.48 523.12 L1065.47 520.39 L1063.28 517.9 L1060.93 515.68 L1058.46 513.79 L1055.93 512.25 L1053.37 511.08 L1050.83 510.31 L1048.35 509.96 L1045.98 510.01 L1043.75 510.49 L1041.7 511.36" class="pn"/>
<path d="M1068.85 556.23 L1070.68 554.95 L1072.27 553.31 L1073.58 551.33 L1074.58 549.03 L1075.28 546.47 L1075.65 543.69 L1075.68 540.72 L1075.38 537.63 L1074.75 534.46 L1073.8 531.28 L1072.55 528.13 L1071.02 525.07 L1069.23 522.15 L1067.22 519.42 L1065.03 516.93 L1062.68 514.71 L1060.21 512.82 L1057.68 511.28 L1055.12 510.11 L1052.58 509.34 L1050.1 508.99 L1047.73 509.04 L1045.5 509.52 L1043.45 510.39" class="t"/>
<ellipse cx="1043.9" cy="540.1" rx="17" ry="26.2" transform="rotate(-29 1043.9 540.1)" class="p" style="stroke-width:1.5"/>
<ellipse cx="1044.5" cy="539.6" rx="14.5" ry="23" transform="rotate(-29 1044.5 539.6)" class="pn" />
<ellipse cx="1047" cy="538.6" rx="11.5" ry="19.5" transform="rotate(-29 1047 538.6)" class="pn" />
<ellipse cx="1050" cy="537" rx="9" ry="16" transform="rotate(-29 1050 537)" class="pn" style="stroke-width:1.1"/>
<path d="M1022.78 581.9 L1024.22 581.58 L1025.59 581.09 L1026.88 580.43 L1028.06 579.61 L1029.14 578.63 L1030.1 577.5 L1030.94 576.23 L1031.65 574.83 L1032.22 573.31 L1032.66 571.68 L1032.95 569.95 L1033.11 568.14 L1033.11 566.26 L1032.97 564.33 L1032.69 562.35 L1032.26 560.35 L1031.69 558.34 L1030.99 556.34 L1030.16 554.35 L1029.21 552.4 L1028.14 550.5 L1026.97 548.67 L1025.69 546.91 L1024.33 545.25 L1022.89 543.69 L1021.38 542.24 L1019.81 540.93 L1018.2 539.75 L1016.56 538.72 L1014.9 537.84 L1013.23 537.12 L1011.56 536.57 L1009.92 536.19 L1008.31 535.99 L1006.74 535.96 L1005.22 536.1 L1003.78 536.42 L1002.41 536.91 L1001.12 537.57 L999.94 538.39" class="pk" style="stroke-width:2.6"/>
<ellipse cx="1002" cy="565.8" rx="16.7" ry="25.7" transform="rotate(-31 1002 565.8)" class="pk" style="stroke-width:2.8"/>
<path d="M990.68 568.15 L991.8 570.37 L993.09 572.51 L994.53 574.55 L996.09 576.45 L997.76 578.18 L999.52 579.74 L1001.33 581.08 L1003.18 582.2 L1005.04 583.09 L1006.89 583.72 L1008.7 584.09 L1010.45 584.2 L1012.11 584.04 L1013.66 583.61 L1015.07 582.93 L1016.34 582 L1017.44 580.83 L1018.36 579.44 L1019.09 577.85 L1019.61 576.08 L1019.92 574.15 L1020.02 572.09 L1019.89 569.93 L1019.56 567.69 L1019.01 565.42 L1018.26 563.12 L1017.32 560.85 L1016.2 558.63 L1014.91 556.49 L1013.47 554.45" class="t" style="stroke-width:1.2"/>
<g transform="translate(845 540) scale(0.1445)" stroke="#111" stroke-linejoin="round" stroke-linecap="round"><path d="M110 440 Q150 410 250 380 Q270 320 330 300 Q360 295 380 320 L440 230 Q470 180 520 170 Q540 130 600 130 Q650 150 670 175 L720 180 Q750 195 760 230 L870 380 L950 390 Q985 410 990 440 L990 520 Q950 580 880 600 L780 650 L650 735 Q640 780 600 790 L450 810 Q350 790 300 750 Q250 690 220 600 Q200 560 140 520 Q100 490 110 440 Z" fill="#fff" stroke-width="12"/><path d="M380 320 Q420 370 480 420 Q540 470 530 540 Q560 560 560 600 Q600 650 640 700 L650 735 M440 230 L560 290 L640 240 M560 290 L580 350 M640 240 L700 210 M700 380 L880 380 M600 620 L760 575 M650 660 L840 600 M880 480 L960 420 M520 230 L700 200 M460 300 L540 250 M470 350 Q500 400 520 380 M860 500 Q900 560 930 540" fill="none" stroke-width="8"/><ellipse cx="345" cy="622" rx="105" ry="170" transform="rotate(-24 345 622)" fill="#fff" stroke-width="12"/><ellipse cx="355" cy="612" rx="85" ry="140" transform="rotate(-24 355 612)" fill="none" stroke-width="9"/><ellipse cx="365" cy="602" rx="70" ry="115" transform="rotate(-24 365 602)" fill="none" stroke-width="14"/><ellipse cx="372" cy="595" rx="55" ry="92" transform="rotate(-24 372 595)" fill="none" stroke-width="8"/><ellipse cx="155" cy="490" rx="25" ry="35" fill="#fff" stroke-width="10"/><ellipse cx="370" cy="400" rx="20" ry="26" fill="#fff" stroke-width="10"/><ellipse cx="500" cy="575" rx="22" ry="30" fill="#fff" stroke-width="10"/><ellipse cx="570" cy="715" rx="25" ry="32" fill="#fff" stroke-width="10"/><ellipse cx="510" cy="728" rx="12" ry="15" fill="#fff" stroke-width="9"/><circle cx="625" cy="420" r="48" fill="#fff" stroke-width="10"/><circle cx="628" cy="418" r="26" fill="none" stroke-width="9"/><path d="M560 450 L700 405 M625 360 L632 500" fill="none" stroke-width="7"/></g>
<path d="M956.25 487.5 L948.25 492.5 L948.25 560 L943 564 M968 495.5 L958.75 500 L958.75 565 L953 570 M980.75 506.25 L969.5 511 L969.5 567 L958 574 M959 486 L966 482 M971 494 L979 490 M984 504.5 L990 501" class="dd" style="stroke:#222"/>
<ellipse cx="956.25" cy="487.5" rx="2" ry="3" transform="rotate(-30 956.25 487.5)" class="pn" style="stroke-width:1.4"/>
<ellipse cx="968" cy="495.5" rx="2" ry="3" transform="rotate(-30 968 495.5)" class="pn" style="stroke-width:1.4"/>
<ellipse cx="980.75" cy="506.25" rx="2" ry="3" transform="rotate(-30 980.75 506.25)" class="pn" style="stroke-width:1.4"/>
<path d="M988 600 L991 597 L1057.5 628.75 L1066 624" class="dd"/>
<ellipse cx="1064.5" cy="624.5" rx="2" ry="3" transform="rotate(-30 1064.5 624.5)" class="pn" style="stroke-width:1.4"/>
<path d="M1068 622 L1073 619" class="t"/>
<path d="M930 654 L1013.75 704.5 L935 750 M831 809 L775.7 844.8 L675 789.5 M665.2 771.6 L746.5 809 M597.1 698 L583.9 705.5 L648.1 744.2 L642 748 M645.7 815.5 L736.7 865.9 L729 871" class="dd"/>
<ellipse cx="748" cy="810.6" rx="2" ry="3" transform="rotate(-30 748 810.6)" class="pn" style="stroke-width:1.4"/>
<path d="M751 808.5 L756 806" class="t"/>
<path d="M861.98 669.02 L863.26 669.3 L864.52 669.41 L865.74 669.37 L866.92 669.16 L868.04 668.8 L869.1 668.28 L870.09 667.61 L871 666.79 L871.83 665.84 L872.56 664.75 L873.2 663.54 L873.73 662.21 L874.16 660.78 L874.48 659.25 L874.69 657.64 L874.78 655.96 L874.76 654.22 L874.63 652.44 L874.38 650.62 L874.02 648.79 L873.56 646.96 L872.99 645.14 L872.32 643.34 L871.55 641.58 L870.7 639.88 L869.76 638.24 L868.74 636.67 L867.66 635.2 L866.52 633.82 L865.33 632.56 L864.09 631.41 L862.82 630.4 L861.53 629.52 L860.23 628.79 L858.92 628.21 L857.62 627.78 L856.34 627.5 L855.08 627.39 L853.86 627.43 L852.68 627.64" class="pk" style="stroke-width:2.8"/>
<path d="M861.7 666.96 L862.58 667.07 L863.44 667.08 L864.27 667 L865.07 666.81 L865.84 666.52 L866.56 666.14 L867.24 665.66 L867.87 665.1 L868.45 664.44 L868.98 663.7 L869.45 662.88 L869.85 661.98 L870.2 661.01 L870.48 659.97 L870.69 658.88 L870.84 657.73 L870.92 656.53 L870.93 655.29 L870.88 654.01 L870.75 652.71 L870.56 651.39 L870.3 650.05 L869.98 648.71 L869.59 647.37 L869.14 646.04 L868.64 644.73 L868.07 643.43 L867.46 642.17 L866.8 640.95 L866.09 639.77 L865.34 638.64 L864.55 637.57 L863.72 636.57 L862.87 635.63 L862 634.76 L861.1 633.97 L860.2 633.27 L859.28 632.65 L858.36 632.12 L857.44 631.68" class="t" style="stroke-width:1.2"/>
<ellipse cx="847.3" cy="652.9" rx="13.5" ry="22" transform="rotate(-22 847.3 652.9)" class="pk" style="stroke-width:3"/>
<path d="M836.98 649.83 L837.48 652.08 L838.16 654.32 L839.01 656.53 L840.02 658.66 L841.16 660.69 L842.43 662.57 L843.79 664.28 L845.23 665.79 L846.72 667.07 L848.25 668.11 L849.77 668.88 L851.28 669.38 L852.74 669.59 L854.13 669.51 L855.43 669.15 L856.62 668.51 L857.67 667.6 L858.57 666.43 L859.31 665.03 L859.87 663.41 L860.25 661.61 L860.43 659.65 L860.42 657.56 L860.21 655.38 L859.81 653.15 L859.23 650.9 L858.47 648.67 L857.55 646.49 L856.48 644.4 L855.28 642.44" class="t" style="stroke-width:1.1"/>
<path d="M811.57 687.05 L812.9 688.28 L814.28 689.29 L815.68 690.03 L817.05 690.51 L818.39 690.69 L819.64 690.59 L820.79 690.19 L821.81 689.52 L822.67 688.59 L823.35 687.42 L823.85 686.03 L824.14 684.45 L824.23 682.73 L824.1 680.9 L823.76 679.01 L823.23 677.09 L822.51 675.19 L821.61 673.36 L820.57 671.63 L819.4 670.05 L818.13 668.65 L816.78 667.46 L815.4 666.52 L814 665.83 L812.63 665.43 L811.32 665.31 L810.08 665.48 L808.96 665.94 L807.98 666.67 L807.16 667.66" class="pn" style="stroke-width:1.5"/>
<path d="M814.96 685.34 L816.29 686.57 L817.66 687.58 L819.06 688.32 L820.44 688.8 L821.77 688.98 L823.02 688.88 L824.17 688.48 L825.19 687.81 L826.05 686.88 L826.73 685.71 L827.23 684.32 L827.52 682.74 L827.61 681.02 L827.48 679.19 L827.15 677.3 L826.61 675.38 L825.89 673.48 L825 671.65 L823.95 669.92 L822.78 668.34 L821.51 666.94 L820.16 665.75 L818.78 664.81 L817.39 664.12 L816.02 663.72 L814.7 663.6 L813.47 663.77 L812.35 664.23 L811.36 664.96 L810.54 665.95" class="pn" style="stroke-width:1.5"/>
<path d="M818.34 683.63 L819.67 684.86 L821.05 685.87 L822.44 686.61 L823.82 687.09 L825.15 687.27 L826.4 687.17 L827.55 686.77 L828.57 686.1 L829.43 685.17 L830.12 684 L830.61 682.61 L830.9 681.03 L830.99 679.31 L830.86 677.48 L830.53 675.59 L829.99 673.67 L829.27 671.77 L828.38 669.94 L827.33 668.21 L826.16 666.63 L824.89 665.23 L823.55 664.04 L822.16 663.1 L820.77 662.41 L819.4 662.01 L818.08 661.89 L816.85 662.06 L815.73 662.52 L814.75 663.25 L813.92 664.24" class="pn" style="stroke-width:1.5"/>
<path d="M821.72 681.92 L823.05 683.15 L824.43 684.16 L825.82 684.9 L827.2 685.38 L828.53 685.56 L829.79 685.46 L830.94 685.06 L831.95 684.39 L832.81 683.46 L833.5 682.29 L833.99 680.9 L834.29 679.32 L834.37 677.6 L834.24 675.77 L833.91 673.88 L833.38 671.96 L832.65 670.06 L831.76 668.23 L830.72 666.5 L829.54 664.92 L828.27 663.52 L826.93 662.33 L825.54 661.39 L824.15 660.7 L822.78 660.3 L821.46 660.18 L820.23 660.35 L819.11 660.81 L818.13 661.54 L817.3 662.53" class="pn" style="stroke-width:1.5"/>
<path d="M825.1 680.21 L826.43 681.44 L827.81 682.45 L829.2 683.19 L830.58 683.67 L831.91 683.85 L833.17 683.75 L834.32 683.35 L835.33 682.68 L836.19 681.75 L836.88 680.58 L837.38 679.19 L837.67 677.61 L837.75 675.89 L837.63 674.06 L837.29 672.17 L836.76 670.25 L836.04 668.35 L835.14 666.52 L834.1 664.79 L832.93 663.21 L831.65 661.81 L830.31 660.62 L828.93 659.68 L827.53 658.99 L826.16 658.59 L824.84 658.47 L823.61 658.64 L822.49 659.1 L821.51 659.83 L820.69 660.82" class="pn" style="stroke-width:1.5"/>
<ellipse cx="815" cy="678" rx="8" ry="13.5" transform="rotate(-25 815 678)" class="pn" style="stroke-width:1.5"/>
<ellipse cx="788.96" cy="693.76" rx="13.5" ry="24" transform="rotate(-27 788.96 693.76)" class="p" /><path d="M760.65 735.12 L799.86 715.14 L778.06 672.38 L738.86 692.35 Z" fill="#fff" stroke="none"/><path d="M760.65 735.12 L799.86 715.14 M738.86 692.35 L778.06 672.38" class="p" fill="none"/><ellipse cx="749.76" cy="713.74" rx="13.5" ry="24" transform="rotate(-27 749.76 713.74)" class="p" />
<path d="M761.77 735.11 L763.24 734.13 L764.5 732.78 L765.53 731.1 L766.29 729.12 L766.79 726.87 L767.02 724.38 L766.96 721.71 L766.63 718.89 L766.02 715.97 L765.14 713.01 L764.02 710.06 L762.68 707.15 L761.12 704.36 L759.39 701.71 L757.5 699.27 L755.5 697.06 L753.42 695.13 L751.29 693.51 L749.15 692.23 L747.03 691.31 L744.97 690.77 L743.02 690.61 L741.19 690.84 L739.52 691.45" class="pn" style="stroke-width:1.3"/>
<path d="M763.55 734.2 L765.03 733.22 L766.29 731.87 L767.31 730.2 L768.08 728.21 L768.58 725.96 L768.8 723.48 L768.74 720.8 L768.41 717.98 L767.8 715.07 L766.93 712.1 L765.81 709.15 L764.46 706.25 L762.9 703.45 L761.17 700.8 L759.29 698.36 L757.28 696.15 L755.2 694.22 L753.07 692.6 L750.93 691.32 L748.81 690.4 L746.76 689.86 L744.8 689.7 L742.97 689.93 L741.31 690.54" class="pn" style="stroke-width:1.3"/>
<path d="M771.57 730.12 L773.05 729.13 L774.31 727.79 L775.33 726.11 L776.1 724.13 L776.6 721.88 L776.82 719.39 L776.76 716.71 L776.43 713.9 L775.82 710.98 L774.95 708.02 L773.83 705.06 L772.48 702.16 L770.92 699.36 L769.19 696.72 L767.3 694.27 L765.3 692.07 L763.22 690.14 L761.09 688.52 L758.95 687.24 L756.83 686.32 L754.78 685.77 L752.82 685.62 L750.99 685.85 L749.33 686.46" class="pn" style="stroke-width:1.3"/>
<path d="M774.24 728.76 L775.72 727.77 L776.98 726.43 L778 724.75 L778.77 722.77 L779.27 720.51 L779.49 718.03 L779.44 715.35 L779.1 712.53 L778.49 709.62 L777.62 706.66 L776.5 703.7 L775.15 700.8 L773.6 698 L771.86 695.36 L769.98 692.91 L767.98 690.7 L765.89 688.77 L763.76 687.16 L761.62 685.88 L759.5 684.96 L757.45 684.41 L755.49 684.25 L753.66 684.48 L752 685.1" class="pn" style="stroke-width:1.3"/>
<path d="M783.15 724.22 L784.63 723.23 L785.89 721.89 L786.91 720.21 L787.68 718.23 L788.18 715.97 L788.4 713.49 L788.35 710.81 L788.01 707.99 L787.4 705.08 L786.53 702.12 L785.41 699.16 L784.06 696.26 L782.51 693.46 L780.77 690.82 L778.89 688.37 L776.89 686.16 L774.8 684.23 L772.67 682.62 L770.53 681.34 L768.41 680.42 L766.36 679.87 L764.4 679.71 L762.57 679.94 L760.91 680.56" class="pn" style="stroke-width:1.3"/>
<path d="M785.83 722.85 L787.3 721.87 L788.56 720.52 L789.58 718.85 L790.35 716.87 L790.85 714.61 L791.07 712.13 L791.02 709.45 L790.68 706.63 L790.07 703.72 L789.2 700.75 L788.08 697.8 L786.73 694.9 L785.18 692.1 L783.44 689.45 L781.56 687.01 L779.56 684.8 L777.48 682.87 L775.34 681.25 L773.2 679.97 L771.09 679.05 L769.03 678.51 L767.07 678.35 L765.25 678.58 L763.58 679.19" class="pn" style="stroke-width:1.3"/>
<path d="M795.63 717.86 L797.1 716.87 L798.36 715.53 L799.38 713.85 L800.15 711.87 L800.65 709.62 L800.88 707.13 L800.82 704.46 L800.48 701.64 L799.87 698.72 L799 695.76 L797.88 692.8 L796.53 689.9 L794.98 687.1 L793.25 684.46 L791.36 682.01 L789.36 679.81 L787.28 677.88 L785.15 676.26 L783 674.98 L780.89 674.06 L778.83 673.52 L776.87 673.36 L775.05 673.59 L773.38 674.2" class="pn" style="stroke-width:1.3"/>
<path d="M798.3 716.5 L799.78 715.51 L801.04 714.17 L802.06 712.49 L802.83 710.51 L803.33 708.26 L803.55 705.77 L803.49 703.1 L803.16 700.28 L802.55 697.36 L801.68 694.4 L800.56 691.44 L799.21 688.54 L797.65 685.74 L795.92 683.1 L794.03 680.65 L792.03 678.45 L789.95 676.52 L787.82 674.9 L785.68 673.62 L783.56 672.7 L781.51 672.16 L779.55 672 L777.72 672.23 L776.06 672.84" class="pn" style="stroke-width:1.3"/>
<path d="M739.59 729.02 L759.74 733.34 L739.77 694.13 L731.41 712.98 Z" fill="#fff" stroke="none"/>
<path d="M739.59 729.02 L759.74 733.34 M739.77 694.13 L731.41 712.98" class="pn" style="stroke-width:1.5"/>
<path d="M757.96 734.25 L759.33 733.34 L760.5 732.11 L761.46 730.58 L762.19 728.78 L762.68 726.74 L762.91 724.49 L762.89 722.07 L762.61 719.53 L762.09 716.9 L761.32 714.24 L760.32 711.58 L759.11 708.97 L757.71 706.46 L756.15 704.09 L754.44 701.9 L752.63 699.93 L750.73 698.21 L748.79 696.77 L746.83 695.64 L744.89 694.83 L743.01 694.36 L741.21 694.24 L739.53 694.47 L737.99 695.04" class="pn" style="stroke-width:1.3"/>
<ellipse cx="735.5" cy="721" rx="6" ry="9" transform="rotate(-27 735.5 721)" class="p" style="stroke-width:1.5"/>
<ellipse cx="735.5" cy="721" rx="4" ry="6.5" transform="rotate(-27 735.5 721)" class="pk" style="stroke-width:2"/>
<ellipse cx="735.5" cy="721" rx="2.5" ry="4" transform="rotate(-27 735.5 721)" class="t" />
<ellipse cx="716.7" cy="730.2" rx="6" ry="9" transform="rotate(-25 716.7 730.2)" class="pk" style="stroke-width:2.6"/>
<ellipse cx="716.5" cy="730.5" rx="3" ry="5" transform="rotate(-25 716.5 730.5)" class="pn" style="stroke-width:1.3"/>
<ellipse cx="693.6" cy="745.3" rx="13.5" ry="21" transform="rotate(-25 693.6 745.3)" class="pk" style="stroke-width:2.2"/>
<ellipse cx="672.2" cy="756.9" rx="6" ry="9.5" transform="rotate(-25 672.2 756.9)" class="p" style="stroke-width:1.5"/>
<ellipse cx="672.2" cy="756.9" rx="3.5" ry="6" transform="rotate(-25 672.2 756.9)" class="pn" style="stroke-width:1.2"/>
<g transform="translate(530 735) scale(0.12225)" stroke="#111" stroke-linejoin="round" stroke-linecap="round"><path d="M90 700 Q100 610 170 570 L280 470 L560 330 L740 165 L860 90 Q905 80 920 130 Q940 200 1010 260 Q1070 290 1080 340 Q1100 380 1120 420 Q1170 470 1170 530 L1160 560 Q1100 600 1060 620 L1010 650 Q960 660 930 640 L870 630 L640 720 L460 790 Q420 820 330 880 L250 900 Q120 860 90 700 Z" fill="#fff" stroke-width="14"/><path d="M440 290 Q450 240 520 220 L640 160 Q690 150 700 180 L560 300 Q520 290 490 330 Z" fill="#fff" stroke-width="13"/><ellipse cx="490" cy="300" rx="36" ry="30" fill="#fff" stroke-width="12"/><path d="M240 490 Q430 560 480 710 Q500 800 430 855 M270 480 Q440 560 490 700" fill="none" stroke-width="12"/><path d="M390 480 L740 165 M430 470 L760 290 M630 660 L630 720 M640 665 L880 480 Q900 430 920 440 M680 380 Q700 370 720 400 Q720 420 700 420 M670 460 Q680 490 700 490 L790 495 M930 350 L1040 320 M940 410 L1060 390 M1100 470 Q1140 520 1130 560" fill="none" stroke-width="9"/><ellipse cx="210" cy="745" rx="95" ry="150" transform="rotate(-30 210 745)" fill="#fff" stroke-width="15"/><ellipse cx="215" cy="742" rx="72" ry="118" transform="rotate(-30 215 742)" fill="#fff" stroke-width="11"/><ellipse cx="220" cy="740" rx="60" ry="100" transform="rotate(-30 220 740)" fill="none" stroke-width="8"/><ellipse cx="950" cy="580" rx="55" ry="70" transform="rotate(-30 950 580)" fill="#fff" stroke-width="12"/><ellipse cx="955" cy="585" rx="35" ry="45" transform="rotate(-30 955 585)" fill="none" stroke-width="10"/></g>
<circle cx="597.1" cy="698" r="3.6" fill="#fff" stroke="#111" stroke-width="2"/>
<circle cx="597.1" cy="698" r="1.5" fill="#111"/>
<ellipse cx="528.69" cy="842.1" rx="6.5" ry="10" transform="rotate(-30 528.69 842.1)" class="p" /><path d="M520.7 858.26 L533.69 850.76 L523.69 833.44 L510.7 840.94 Z" fill="#fff" stroke="none"/><path d="M520.7 858.26 L533.69 850.76 M510.7 840.94 L523.69 833.44" class="p" fill="none"/><ellipse cx="515.7" cy="849.6" rx="6.5" ry="10" transform="rotate(-30 515.7 849.6)" class="p" />
<ellipse cx="515.7" cy="849.6" rx="6.5" ry="10" transform="rotate(-30 515.7 849.6)" class="p" style="stroke-width:1.5"/>
<ellipse cx="515.7" cy="849.6" rx="4.5" ry="7.5" transform="rotate(-30 515.7 849.6)" class="pn" style="stroke-width:1.2"/>
<path d="M488.42 851.09 L487.88 852.31 L487.54 853.72 L487.4 855.26 L487.47 856.92 L487.75 858.65 L488.23 860.42 L488.9 862.18 L489.75 863.9 L490.75 865.55 L491.89 867.08 L493.14 868.46 L494.47 869.66 L495.85 870.65 L497.26 871.42 L498.66 871.94 L500.02 872.21 L501.31 872.22 L502.51 871.96 L503.58 871.45 L504.5 870.69 L505.26 869.71 L505.84 868.52 L506.21 867.14 L506.39 865.62 L506.35 863.98 L506.11 862.26 L505.67 860.5 L505.03 858.73 L504.21 856.99 L503.24 855.33 L502.12 853.78 L500.89 852.37 L499.57 851.14 L498.19 850.11 L496.79 849.3 L495.39 848.73 L494.02 848.42 L492.71 848.36 L491.5 848.57 L490.4 849.04" class="pn" style="stroke-width:1.6"/>
<path d="M489.32 853.67 L489.1 854.79 L489.03 856.02 L489.11 857.33 L489.35 858.7 L489.73 860.1 L490.25 861.5 L490.9 862.88 L491.67 864.21 L492.54 865.46 L493.49 866.61 L494.51 867.64 L495.58 868.53 L496.67 869.26 L497.77 869.81 L498.85 870.17 L499.89 870.35 L500.87 870.33 L501.78 870.11 L502.59 869.71 L503.29 869.12 L503.87 868.36 L504.31 867.44 L504.61 866.38 L504.75 865.2 L504.75 863.93 L504.59 862.59 L504.28 861.21 L503.83 859.8 L503.24 858.41 L502.53 857.05 L501.71 855.76 L500.8 854.55 L499.81 853.46 L498.76 852.5 L497.68 851.69 L496.58 851.05 L495.49 850.58 L494.42 850.31 L493.41 850.24 L492.46 850.35" class="t"/>
<g transform="translate(680 850) scale(0.05556)" stroke="#111" stroke-linejoin="round" stroke-linecap="round"><path d="M380 430 L640 280 Q720 270 770 310 Q850 400 880 500 L860 620 L630 740 L560 780 Q450 760 400 650 Q360 540 380 430 Z" fill="#fff" stroke-width="32"/><path d="M440 400 L590 450 L770 320 M590 450 Q640 520 620 600 L870 500 M620 600 L600 760" fill="none" stroke-width="24"/><path d="M380 430 Q460 400 540 440 Q600 500 610 600 Q600 720 560 780" fill="none" stroke-width="30"/><ellipse cx="500" cy="590" rx="70" ry="100" transform="rotate(-25 500 590)" fill="#fff" stroke-width="26"/><ellipse cx="490" cy="560" rx="45" ry="60" transform="rotate(-25 490 560)" fill="#111"/><path d="M350 690 L520 610" fill="none" stroke-width="20"/></g>
<ellipse cx="930.91" cy="753.65" rx="3.3" ry="5.5" transform="rotate(-29.6 930.91 753.65)" class="p" /><path d="M917.97 767.33 L933.62 758.44 L928.19 748.87 L912.54 757.76 Z" fill="#fff" stroke="none"/><path d="M917.97 767.33 L933.62 758.44 M912.54 757.76 L928.19 748.87" class="p" fill="none"/><ellipse cx="915.25" cy="762.55" rx="3.3" ry="5.5" transform="rotate(-29.6 915.25 762.55)" class="p" />
<ellipse cx="916.12" cy="762.05" rx="3.4" ry="5.6" transform="rotate(-29.6 916.12 762.05)" class="pk" style="stroke-width:1.2"/>
<ellipse cx="917.95" cy="761.01" rx="3.4" ry="5.6" transform="rotate(-29.6 917.95 761.01)" class="pk" style="stroke-width:1.2"/>
<ellipse cx="919.78" cy="759.98" rx="3.4" ry="5.6" transform="rotate(-29.6 919.78 759.98)" class="pk" style="stroke-width:1.2"/>
<ellipse cx="921.6" cy="758.94" rx="3.4" ry="5.6" transform="rotate(-29.6 921.6 758.94)" class="pk" style="stroke-width:1.2"/>
<ellipse cx="923.43" cy="757.9" rx="3.4" ry="5.6" transform="rotate(-29.6 923.43 757.9)" class="pk" style="stroke-width:1.2"/>
<ellipse cx="925.25" cy="756.86" rx="3.4" ry="5.6" transform="rotate(-29.6 925.25 756.86)" class="pk" style="stroke-width:1.2"/>
<ellipse cx="927.08" cy="755.83" rx="3.4" ry="5.6" transform="rotate(-29.6 927.08 755.83)" class="pk" style="stroke-width:1.2"/>
<ellipse cx="928.91" cy="754.79" rx="3.4" ry="5.6" transform="rotate(-29.6 928.91 754.79)" class="pk" style="stroke-width:1.2"/>
<ellipse cx="915.25" cy="762.55" rx="3" ry="5" transform="rotate(-29.6 915.25 762.55)" class="p" /><path d="M909.03 771.83 L917.72 766.89 L912.78 758.2 L904.09 763.14 Z" fill="#fff" stroke="none"/><path d="M909.03 771.83 L917.72 766.89 M904.09 763.14 L912.78 758.2" class="p" fill="none"/><ellipse cx="906.56" cy="767.48" rx="3" ry="5" transform="rotate(-29.6 906.56 767.48)" class="p" />
<ellipse cx="906.56" cy="767.48" rx="4.2" ry="7" transform="rotate(-29.6 906.56 767.48)" class="p" /><path d="M894.37 782.46 L910.02 773.57 L903.1 761.4 L887.45 770.29 Z" fill="#fff" stroke="none"/><path d="M894.37 782.46 L910.02 773.57 M887.45 770.29 L903.1 761.4" class="p" fill="none"/><ellipse cx="890.91" cy="776.38" rx="4.2" ry="7" transform="rotate(-29.6 890.91 776.38)" class="p" />
<path d="M897.84 780.49 L898.29 780.16 L898.67 779.74 L898.98 779.23 L899.21 778.63 L899.35 777.97 L899.41 777.24 L899.39 776.46 L899.28 775.65 L899.08 774.81 L898.81 773.97 L898.46 773.14 L898.04 772.33 L897.56 771.55 L897.02 770.82 L896.44 770.15 L895.82 769.56 L895.18 769.05 L894.52 768.63 L893.87 768.31 L893.22 768.09 L892.59 767.98 L891.99 767.98 L891.44 768.09 L890.93 768.31" class="t"/>
<ellipse cx="890.91" cy="776.38" rx="3" ry="5" transform="rotate(-29.6 890.91 776.38)" class="p" /><path d="M881.21 787.64 L893.38 780.72 L888.44 772.03 L876.27 778.94 Z" fill="#fff" stroke="none"/><path d="M881.21 787.64 L893.38 780.72 M876.27 778.94 L888.44 772.03" class="p" fill="none"/><ellipse cx="878.74" cy="783.29" rx="3" ry="5" transform="rotate(-29.6 878.74 783.29)" class="p" />
<ellipse cx="878.74" cy="783.29" rx="3.9" ry="6.5" transform="rotate(-29.6 878.74 783.29)" class="p" /><path d="M869.77 795.86 L881.95 788.94 L875.53 777.64 L863.35 784.55 Z" fill="#fff" stroke="none"/><path d="M869.77 795.86 L881.95 788.94 M863.35 784.55 L875.53 777.64" class="p" fill="none"/><ellipse cx="866.56" cy="790.21" rx="3.9" ry="6.5" transform="rotate(-29.6 866.56 790.21)" class="p" />
<path d="M874.99 792.89 L875.41 792.59 L875.76 792.2 L876.04 791.73 L876.26 791.17 L876.39 790.55 L876.45 789.88 L876.42 789.15 L876.32 788.4 L876.14 787.63 L875.89 786.84 L875.56 786.07 L875.17 785.32 L874.72 784.59 L874.22 783.92 L873.68 783.3 L873.11 782.75 L872.52 782.27 L871.91 781.88 L871.3 781.59 L870.69 781.38 L870.11 781.28 L869.56 781.28 L869.04 781.39 L868.57 781.59" class="t"/>
<ellipse cx="866.56" cy="790.21" rx="2.6" ry="4.3" transform="rotate(-29.6 866.56 790.21)" class="p" /><path d="M853.91 802.34 L868.69 793.94 L864.44 786.47 L849.66 794.86 Z" fill="#fff" stroke="none"/><path d="M853.91 802.34 L868.69 793.94 M849.66 794.86 L864.44 786.47" class="p" fill="none"/><ellipse cx="851.78" cy="798.6" rx="2.6" ry="4.3" transform="rotate(-29.6 851.78 798.6)" class="p" />
<ellipse cx="851.78" cy="798.6" rx="3.3" ry="5.5" transform="rotate(-29.6 851.78 798.6)" class="p" /><path d="M839.72 811.78 L854.5 803.39 L849.06 793.82 L834.28 802.22 Z" fill="#fff" stroke="none"/><path d="M839.72 811.78 L854.5 803.39 M834.28 802.22 L849.06 793.82" class="p" fill="none"/><ellipse cx="837" cy="807" rx="3.3" ry="5.5" transform="rotate(-29.6 837 807)" class="p" />
<ellipse cx="837.87" cy="806.51" rx="3.4" ry="5.6" transform="rotate(-29.6 837.87 806.51)" class="pk" style="stroke-width:1.2"/>
<ellipse cx="839.7" cy="805.47" rx="3.4" ry="5.6" transform="rotate(-29.6 839.7 805.47)" class="pk" style="stroke-width:1.2"/>
<ellipse cx="841.52" cy="804.43" rx="3.4" ry="5.6" transform="rotate(-29.6 841.52 804.43)" class="pk" style="stroke-width:1.2"/>
<ellipse cx="843.35" cy="803.39" rx="3.4" ry="5.6" transform="rotate(-29.6 843.35 803.39)" class="pk" style="stroke-width:1.2"/>
<ellipse cx="845.17" cy="802.36" rx="3.4" ry="5.6" transform="rotate(-29.6 845.17 802.36)" class="pk" style="stroke-width:1.2"/>
<ellipse cx="847" cy="801.32" rx="3.4" ry="5.6" transform="rotate(-29.6 847 801.32)" class="pk" style="stroke-width:1.2"/>
<ellipse cx="848.83" cy="800.28" rx="3.4" ry="5.6" transform="rotate(-29.6 848.83 800.28)" class="pk" style="stroke-width:1.2"/>
<ellipse cx="850.65" cy="799.25" rx="3.4" ry="5.6" transform="rotate(-29.6 850.65 799.25)" class="pk" style="stroke-width:1.2"/>
<ellipse cx="837" cy="807" rx="3.3" ry="5.5" transform="rotate(-29.6 837 807)" class="p" style="stroke-width:1.5"/>
<ellipse cx="837" cy="807" rx="1.5" ry="2.5" transform="rotate(-29.6 837 807)" class="pk" style="stroke-width:1.5"/>
</g>
<!-- LEADERS -->
<g class="ld">
<line x1="881.75" y1="99.5" x2="881.75" y2="128.75"/>
<line x1="830" y1="127" x2="830" y2="158.75"/>
<line x1="790" y1="161.25" x2="837.5" y2="230"/>
<line x1="755.75" y1="180" x2="807.5" y2="243.75"/>
<line x1="721.25" y1="202.5" x2="780" y2="236.25"/>
<line x1="665" y1="229.5" x2="718.75" y2="258.75"/>
<line x1="621.25" y1="263.75" x2="690" y2="305"/>
<line x1="1033.75" y1="160" x2="1058.75" y2="207.5"/>
<line x1="998" y1="187" x2="1022" y2="226.25"/>
<line x1="948.75" y1="230.5" x2="1006.25" y2="265"/>
<path d="M988.75 279.5 Q1075 265 1091.25 221.25"/>
<line x1="1051" y1="259" x2="1062" y2="265"/>
<line x1="1144.5" y1="205" x2="1144.5" y2="239.5"/>
<line x1="903.75" y1="248.75" x2="933.75" y2="288.75"/>
<line x1="995.75" y1="427.5" x2="1048.75" y2="500"/>
<line x1="1091" y1="427.5" x2="1097.5" y2="472.5"/>
<line x1="813.75" y1="537.5" x2="875" y2="590"/>
<line x1="730.5" y1="581.25" x2="805.5" y2="656.25"/>
<line x1="678" y1="625" x2="768" y2="678"/>
<line x1="618" y1="654.25" x2="705" y2="715"/>
<line x1="1035" y1="579.5" x2="1124.5" y2="604.5"/>
<line x1="1020" y1="589.5" x2="1124.5" y2="637"/>
<line x1="1072.5" y1="634.5" x2="1122.5" y2="683"/>
<line x1="882.5" y1="665" x2="919.5" y2="684.5"/>
<line x1="858.75" y1="673" x2="858.75" y2="721.8"/>
<line x1="935" y1="456" x2="955" y2="485"/>
<line x1="681" y1="429" x2="712" y2="446"/>
</g>

<!-- LABELS -->
<g class="lb">
<text x="866" y="92">120</text>
<text x="811.5" y="118">130</text>
<text x="771" y="153">100</text>
<text x="736.5" y="174">90</text>
<text x="691" y="203.5">30</text>
<text x="637.25" y="229">10</text>
<text x="585.5" y="259">20</text>
<text x="1056.5" y="234">80</text>
<text x="1023.5" y="254">70</text>
<text x="1069" y="289">60</text>
<text x="1133.5" y="267.5">50</text>
<text x="931" y="316.5">110</text>
<text x="969.75" y="420">200</text>
<text x="1073" y="420">210</text>
<text x="912.25" y="457">30</text>
<text x="724.5" y="463">40</text>
<text x="779.75" y="532">140</text>
<text x="710.5" y="575">230</text>
<text x="630.5" y="621.5">220</text>
<text x="570.25" y="657">240</text>
<text x="1130.5" y="608">160</text>
<text x="1130.5" y="655.5">170</text>
<text x="1130.5" y="704">150</text>
<text x="921" y="710">190</text>
<text x="844.25" y="750.5">180</text>
</g>



<g id="wm">
<path d="M631.25 433.6 L775.25 329 L821.4 370.6 L841.6 352.6 L911.4 404.4 L924.9 393.8 L971 433.6 L795.5 433.6 L840.5 410 L822.5 398.75 L829.25 383 L752 433.6 L719.2 433.6 L757.7 403.6 L736.1 404.2 L771.7 387.3 L758.3 380.3 L770.5 370.9 L771.7 352.8 L674.8 433.6 Z" fill="#fff" fill-opacity="0.35" stroke="#7a7a7a" stroke-width="1"/>
<defs><mask id="wmk" maskUnits="userSpaceOnUse" x="0" y="0" width="1600" height="900"><rect x="0" y="0" width="1600" height="900" fill="#fff"/><text x="0" y="0" transform="translate(625.83 485.4) scale(1.1691 1)" style="font-weight:bold;font-size:58px;fill:#000;stroke:#000;stroke-width:2.8;stroke-linejoin:round" vector-effect="non-scaling-stroke">T</text><text x="0" y="0" transform="translate(670 485.4) scale(1.1250 1)" style="font-weight:bold;font-size:58px;fill:#000;stroke:#000;stroke-width:2.8;stroke-linejoin:round" vector-effect="non-scaling-stroke">E</text><text x="0" y="0" transform="translate(716.03 485.4) scale(1.1118 1)" style="font-weight:bold;font-size:58px;fill:#000;stroke:#000;stroke-width:2.8;stroke-linejoin:round" vector-effect="non-scaling-stroke">C</text><text x="0" y="0" transform="translate(764.68 485.4) scale(1.2059 1)" style="font-weight:bold;font-size:58px;fill:#000;stroke:#000;stroke-width:2.8;stroke-linejoin:round" vector-effect="non-scaling-stroke">H</text><text x="0" y="0" transform="translate(814.71 485.4) scale(1.1447 1)" style="font-weight:bold;font-size:58px;fill:#000;stroke:#000;stroke-width:2.8;stroke-linejoin:round" vector-effect="non-scaling-stroke">C</text><text x="0" y="0" transform="translate(865.95 485.4) scale(1.1524 1)" style="font-weight:bold;font-size:58px;fill:#000;stroke:#000;stroke-width:2.8;stroke-linejoin:round" vector-effect="non-scaling-stroke">O</text><text x="0" y="0" transform="translate(919.77 485.4) scale(1.1812 1)" style="font-weight:bold;font-size:58px;fill:#000;stroke:#000;stroke-width:2.8;stroke-linejoin:round" vector-effect="non-scaling-stroke">M</text></mask></defs>
<g opacity="0.5"><text x="0" y="0" transform="translate(625.83 485.4) scale(1.1691 1)" style="font-weight:bold;font-size:58px;fill:#fff;stroke:#fff;stroke-width:2.8;stroke-linejoin:round" vector-effect="non-scaling-stroke">T</text><text x="0" y="0" transform="translate(670 485.4) scale(1.1250 1)" style="font-weight:bold;font-size:58px;fill:#fff;stroke:#fff;stroke-width:2.8;stroke-linejoin:round" vector-effect="non-scaling-stroke">E</text><text x="0" y="0" transform="translate(716.03 485.4) scale(1.1118 1)" style="font-weight:bold;font-size:58px;fill:#fff;stroke:#fff;stroke-width:2.8;stroke-linejoin:round" vector-effect="non-scaling-stroke">C</text><text x="0" y="0" transform="translate(764.68 485.4) scale(1.2059 1)" style="font-weight:bold;font-size:58px;fill:#fff;stroke:#fff;stroke-width:2.8;stroke-linejoin:round" vector-effect="non-scaling-stroke">H</text><text x="0" y="0" transform="translate(814.71 485.4) scale(1.1447 1)" style="font-weight:bold;font-size:58px;fill:#fff;stroke:#fff;stroke-width:2.8;stroke-linejoin:round" vector-effect="non-scaling-stroke">C</text><text x="0" y="0" transform="translate(865.95 485.4) scale(1.1524 1)" style="font-weight:bold;font-size:58px;fill:#fff;stroke:#fff;stroke-width:2.8;stroke-linejoin:round" vector-effect="non-scaling-stroke">O</text><text x="0" y="0" transform="translate(919.77 485.4) scale(1.1812 1)" style="font-weight:bold;font-size:58px;fill:#fff;stroke:#fff;stroke-width:2.8;stroke-linejoin:round" vector-effect="non-scaling-stroke">M</text></g>
<g mask="url(#wmk)" opacity="0.8"><text x="0" y="0" transform="translate(625.83 485.4) scale(1.1691 1)" style="font-weight:bold;font-size:58px;fill:none;stroke:#6a6a6a;stroke-width:4.8;stroke-linejoin:round" vector-effect="non-scaling-stroke">T</text><text x="0" y="0" transform="translate(670 485.4) scale(1.1250 1)" style="font-weight:bold;font-size:58px;fill:none;stroke:#6a6a6a;stroke-width:4.8;stroke-linejoin:round" vector-effect="non-scaling-stroke">E</text><text x="0" y="0" transform="translate(716.03 485.4) scale(1.1118 1)" style="font-weight:bold;font-size:58px;fill:none;stroke:#6a6a6a;stroke-width:4.8;stroke-linejoin:round" vector-effect="non-scaling-stroke">C</text><text x="0" y="0" transform="translate(764.68 485.4) scale(1.2059 1)" style="font-weight:bold;font-size:58px;fill:none;stroke:#6a6a6a;stroke-width:4.8;stroke-linejoin:round" vector-effect="non-scaling-stroke">H</text><text x="0" y="0" transform="translate(814.71 485.4) scale(1.1447 1)" style="font-weight:bold;font-size:58px;fill:none;stroke:#6a6a6a;stroke-width:4.8;stroke-linejoin:round" vector-effect="non-scaling-stroke">C</text><text x="0" y="0" transform="translate(865.95 485.4) scale(1.1524 1)" style="font-weight:bold;font-size:58px;fill:none;stroke:#6a6a6a;stroke-width:4.8;stroke-linejoin:round" vector-effect="non-scaling-stroke">O</text><text x="0" y="0" transform="translate(919.77 485.4) scale(1.1812 1)" style="font-weight:bold;font-size:58px;fill:none;stroke:#6a6a6a;stroke-width:4.8;stroke-linejoin:round" vector-effect="non-scaling-stroke">M</text></g>
<rect x="618.75" y="493.5" width="367.5" height="11.5" fill="#fff" fill-opacity="0.5" stroke="#8a8a8a" stroke-width="1"/>
<g opacity="0.7"><text x="660" y="531" textLength="277" lengthAdjust="spacingAndGlyphs" style="font-size:28px;fill:none;stroke:#8c8c8c;stroke-width:2;stroke-linejoin:round">Group of companies</text><text x="660" y="531" textLength="277" lengthAdjust="spacingAndGlyphs" style="font-size:28px;fill:#fff;stroke:#fff;stroke-width:0.6;stroke-linejoin:round">Group of companies</text></g>
<g opacity="0.8"><text x="693" y="679" textLength="215" lengthAdjust="spacingAndGlyphs" style="font-weight:bold;font-size:31px;fill:none;stroke:#555;stroke-width:4;stroke-linejoin:round">techcom.pro</text><text x="693" y="679" textLength="215" lengthAdjust="spacingAndGlyphs" style="font-weight:bold;font-size:31px;fill:#fff;stroke:#fff;stroke-width:2;stroke-linejoin:round">techcom.pro</text></g>
</g>
</svg></body></html>
